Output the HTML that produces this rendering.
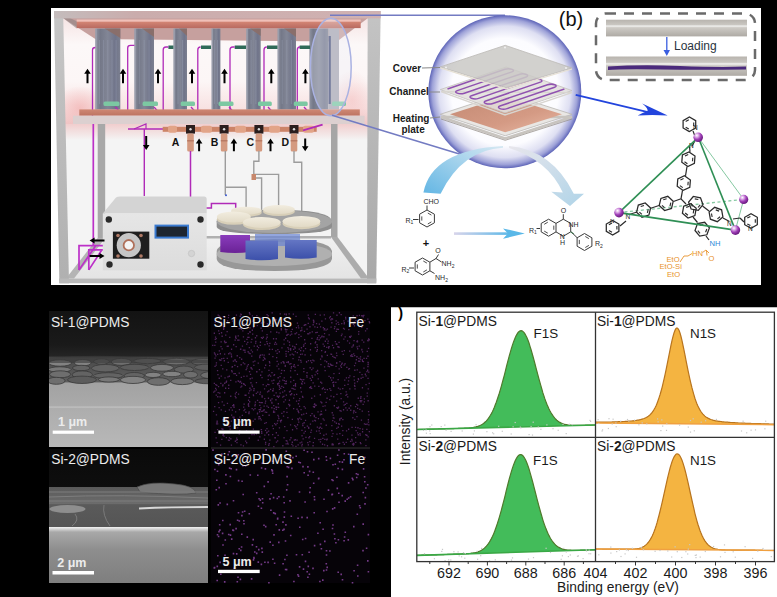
<!DOCTYPE html>
<html><head><meta charset="utf-8"><style>
html,body{margin:0;padding:0;background:#000;}
svg{display:block;font-family:"Liberation Sans",sans-serif;}
</style></head><body>
<svg width="777" height="597" viewBox="0 0 777 597">
<rect width="777" height="597" fill="#000"/>
<rect x="391" y="307.5" width="386" height="90" fill="#fff"/>
<rect x="391" y="307.5" width="386" height="290" fill="#fff"/>
<path d="M417.0,429.5 L418.0,429.5 L419.0,429.4 L420.0,429.4 L421.0,429.4 L422.0,429.4 L422.9,429.3 L423.9,429.3 L424.9,429.3 L425.9,429.3 L426.9,429.2 L427.9,429.2 L428.9,429.2 L429.9,429.2 L430.9,429.1 L431.9,429.1 L432.9,429.1 L433.9,429.1 L434.9,429.0 L435.8,429.0 L436.8,429.0 L437.8,429.0 L438.8,428.9 L439.8,428.9 L440.8,428.9 L441.8,428.9 L442.8,428.8 L443.8,428.8 L444.8,428.8 L445.8,428.8 L446.8,428.7 L447.7,428.7 L448.7,428.7 L449.7,428.7 L450.7,428.6 L451.7,428.6 L452.7,428.6 L453.7,428.6 L454.7,428.5 L455.7,428.5 L456.7,428.5 L457.7,428.5 L458.6,428.4 L459.6,428.4 L460.6,428.4 L461.6,428.3 L462.6,428.3 L463.6,428.3 L464.6,428.2 L465.6,428.2 L466.6,428.1 L467.6,428.0 L468.6,428.0 L469.6,427.9 L470.6,427.8 L471.5,427.7 L472.5,427.5 L473.5,427.4 L474.5,427.2 L475.5,427.0 L476.5,426.7 L477.5,426.5 L478.5,426.1 L479.5,425.7 L480.5,425.3 L481.5,424.8 L482.4,424.2 L483.4,423.5 L484.4,422.7 L485.4,421.8 L486.4,420.8 L487.4,419.6 L488.4,418.3 L489.4,416.9 L490.4,415.3 L491.4,413.6 L492.4,411.7 L493.4,409.6 L494.4,407.3 L495.3,404.8 L496.3,402.2 L497.3,399.3 L498.3,396.3 L499.3,393.2 L500.3,389.8 L501.3,386.3 L502.3,382.7 L503.3,379.0 L504.3,375.3 L505.3,371.4 L506.2,367.6 L507.2,363.7 L508.2,359.9 L509.2,356.2 L510.2,352.6 L511.2,349.2 L512.2,345.9 L513.2,342.9 L514.2,340.2 L515.2,337.7 L516.2,335.6 L517.2,333.9 L518.1,332.5 L519.1,331.5 L520.1,330.9 L521.1,330.7 L522.1,330.9 L523.1,331.6 L524.1,332.6 L525.1,334.1 L526.1,335.9 L527.1,338.0 L528.1,340.5 L529.1,343.3 L530.0,346.3 L531.0,349.5 L532.0,353.0 L533.0,356.5 L534.0,360.2 L535.0,364.0 L536.0,367.8 L537.0,371.6 L538.0,375.4 L539.0,379.1 L540.0,382.7 L541.0,386.2 L542.0,389.6 L542.9,392.9 L543.9,395.9 L544.9,398.9 L545.9,401.6 L546.9,404.2 L547.9,406.5 L548.9,408.7 L549.9,410.7 L550.9,412.5 L551.9,414.2 L552.9,415.7 L553.9,417.0 L554.8,418.2 L555.8,419.3 L556.8,420.2 L557.8,421.0 L558.8,421.7 L559.8,422.4 L560.8,422.9 L561.8,423.3 L562.8,423.7 L563.8,424.1 L564.8,424.3 L565.8,424.6 L566.7,424.7 L567.7,424.9 L568.7,425.0 L569.7,425.1 L570.7,425.2 L571.7,425.3 L572.7,425.3 L573.7,425.3 L574.7,425.4 L575.7,425.4 L576.7,425.4 L577.6,425.4 L578.6,425.4 L579.6,425.3 L580.6,425.3 L581.6,425.3 L582.6,425.3 L583.6,425.3 L584.6,425.3 L585.6,425.2 L586.6,425.2 L587.6,425.2 L588.6,425.2 L589.5,425.1 L590.5,425.1 L591.5,425.1 L592.5,425.1 L593.5,425.0 L594.5,425.0 L595.5,425.0 L595.5,425.0 L417.0,429.5 Z" fill="#43bc5a"/>
<path d="M417.0,429.5 L418.0,429.5 L419.0,429.4 L420.0,429.4 L421.0,429.4 L422.0,429.4 L422.9,429.3 L423.9,429.3 L424.9,429.3 L425.9,429.3 L426.9,429.2 L427.9,429.2 L428.9,429.2 L429.9,429.2 L430.9,429.1 L431.9,429.1 L432.9,429.1 L433.9,429.1 L434.9,429.0 L435.8,429.0 L436.8,429.0 L437.8,429.0 L438.8,428.9 L439.8,428.9 L440.8,428.9 L441.8,428.9 L442.8,428.8 L443.8,428.8 L444.8,428.8 L445.8,428.8 L446.8,428.7 L447.7,428.7 L448.7,428.7 L449.7,428.7 L450.7,428.6 L451.7,428.6 L452.7,428.6 L453.7,428.6 L454.7,428.5 L455.7,428.5 L456.7,428.5 L457.7,428.5 L458.6,428.4 L459.6,428.4 L460.6,428.4 L461.6,428.3 L462.6,428.3 L463.6,428.3 L464.6,428.2 L465.6,428.2 L466.6,428.1 L467.6,428.0 L468.6,428.0 L469.6,427.9 L470.6,427.8 L471.5,427.7 L472.5,427.5 L473.5,427.4 L474.5,427.2 L475.5,427.0 L476.5,426.7 L477.5,426.5 L478.5,426.1 L479.5,425.7 L480.5,425.3 L481.5,424.8 L482.4,424.2 L483.4,423.5 L484.4,422.7 L485.4,421.8 L486.4,420.8 L487.4,419.6 L488.4,418.3 L489.4,416.9 L490.4,415.3 L491.4,413.6 L492.4,411.7 L493.4,409.6 L494.4,407.3 L495.3,404.8 L496.3,402.2 L497.3,399.3 L498.3,396.3 L499.3,393.2 L500.3,389.8 L501.3,386.3 L502.3,382.7 L503.3,379.0 L504.3,375.3 L505.3,371.4 L506.2,367.6 L507.2,363.7 L508.2,359.9 L509.2,356.2 L510.2,352.6 L511.2,349.2 L512.2,345.9 L513.2,342.9 L514.2,340.2 L515.2,337.7 L516.2,335.6 L517.2,333.9 L518.1,332.5 L519.1,331.5 L520.1,330.9 L521.1,330.7 L522.1,330.9 L523.1,331.6 L524.1,332.6 L525.1,334.1 L526.1,335.9 L527.1,338.0 L528.1,340.5 L529.1,343.3 L530.0,346.3 L531.0,349.5 L532.0,353.0 L533.0,356.5 L534.0,360.2 L535.0,364.0 L536.0,367.8 L537.0,371.6 L538.0,375.4 L539.0,379.1 L540.0,382.7 L541.0,386.2 L542.0,389.6 L542.9,392.9 L543.9,395.9 L544.9,398.9 L545.9,401.6 L546.9,404.2 L547.9,406.5 L548.9,408.7 L549.9,410.7 L550.9,412.5 L551.9,414.2 L552.9,415.7 L553.9,417.0 L554.8,418.2 L555.8,419.3 L556.8,420.2 L557.8,421.0 L558.8,421.7 L559.8,422.4 L560.8,422.9 L561.8,423.3 L562.8,423.7 L563.8,424.1 L564.8,424.3 L565.8,424.6 L566.7,424.7 L567.7,424.9 L568.7,425.0 L569.7,425.1 L570.7,425.2 L571.7,425.3 L572.7,425.3 L573.7,425.3 L574.7,425.4 L575.7,425.4 L576.7,425.4 L577.6,425.4 L578.6,425.4 L579.6,425.3 L580.6,425.3 L581.6,425.3 L582.6,425.3 L583.6,425.3 L584.6,425.3 L585.6,425.2 L586.6,425.2 L587.6,425.2 L588.6,425.2 L589.5,425.1 L590.5,425.1 L591.5,425.1 L592.5,425.1 L593.5,425.0 L594.5,425.0 L595.5,425.0" fill="none" stroke="#4f7a2c" stroke-width="1.2"/>
<line x1="417" y1="429.5" x2="595.5" y2="425" stroke="#3aa845" stroke-width="1.6"/>
<rect x="475.5" y="424.1" width="1.2" height="1.2" fill="#c8c8c8"/>
<rect x="532.6" y="421.6" width="1.2" height="1.2" fill="#c8c8c8"/>
<rect x="512.5" y="426.2" width="1.2" height="1.2" fill="#c8c8c8"/>
<rect x="429.1" y="430.3" width="1.2" height="1.2" fill="#c8c8c8"/>
<rect x="425.5" y="429.4" width="1.2" height="1.2" fill="#c8c8c8"/>
<rect x="431.2" y="424.4" width="1.2" height="1.2" fill="#c8c8c8"/>
<rect x="493.1" y="433.2" width="1.2" height="1.2" fill="#c8c8c8"/>
<rect x="440.6" y="426.0" width="1.2" height="1.2" fill="#c8c8c8"/>
<rect x="528.5" y="434.0" width="1.2" height="1.2" fill="#c8c8c8"/>
<rect x="519.7" y="426.5" width="1.2" height="1.2" fill="#c8c8c8"/>
<rect x="589.4" y="419.8" width="1.2" height="1.2" fill="#c8c8c8"/>
<rect x="568.8" y="423.7" width="1.2" height="1.2" fill="#c8c8c8"/>
<rect x="444.2" y="424.5" width="1.2" height="1.2" fill="#c8c8c8"/>
<rect x="472.8" y="433.5" width="1.2" height="1.2" fill="#c8c8c8"/>
<rect x="450.5" y="430.8" width="1.2" height="1.2" fill="#c8c8c8"/>
<rect x="530.5" y="425.9" width="1.2" height="1.2" fill="#c8c8c8"/>
<rect x="514.6" y="421.9" width="1.2" height="1.2" fill="#c8c8c8"/>
<rect x="429.4" y="426.1" width="1.2" height="1.2" fill="#c8c8c8"/>
<rect x="537.7" y="426.4" width="1.2" height="1.2" fill="#c8c8c8"/>
<rect x="473.8" y="430.3" width="1.2" height="1.2" fill="#c8c8c8"/>
<rect x="498.1" y="425.7" width="1.2" height="1.2" fill="#c8c8c8"/>
<rect x="557.6" y="429.7" width="1.2" height="1.2" fill="#c8c8c8"/>
<rect x="461.6" y="430.4" width="1.2" height="1.2" fill="#c8c8c8"/>
<rect x="510.6" y="433.4" width="1.2" height="1.2" fill="#c8c8c8"/>
<rect x="546.3" y="424.3" width="1.2" height="1.2" fill="#c8c8c8"/>
<rect x="590.0" y="420.8" width="1.2" height="1.2" fill="#c8c8c8"/>
<rect x="492.0" y="432.2" width="1.2" height="1.2" fill="#c8c8c8"/>
<rect x="445.5" y="429.6" width="1.2" height="1.2" fill="#c8c8c8"/>
<rect x="425.8" y="432.6" width="1.2" height="1.2" fill="#c8c8c8"/>
<rect x="552.4" y="428.1" width="1.2" height="1.2" fill="#c8c8c8"/>
<rect x="571.8" y="424.0" width="1.2" height="1.2" fill="#c8c8c8"/>
<rect x="540.3" y="428.7" width="1.2" height="1.2" fill="#c8c8c8"/>
<rect x="520.2" y="427.3" width="1.2" height="1.2" fill="#c8c8c8"/>
<rect x="565.6" y="433.0" width="1.2" height="1.2" fill="#c8c8c8"/>
<rect x="501.7" y="430.7" width="1.2" height="1.2" fill="#c8c8c8"/>
<rect x="429.6" y="433.0" width="1.2" height="1.2" fill="#c8c8c8"/>
<rect x="531.9" y="434.5" width="1.2" height="1.2" fill="#c8c8c8"/>
<rect x="562.4" y="423.8" width="1.2" height="1.2" fill="#c8c8c8"/>
<rect x="486.3" y="431.1" width="1.2" height="1.2" fill="#c8c8c8"/>
<rect x="422.9" y="429.8" width="1.2" height="1.2" fill="#c8c8c8"/>
<path d="M595.5,422.2 L596.5,422.2 L597.5,422.2 L598.5,422.2 L599.5,422.2 L600.5,422.2 L601.5,422.2 L602.5,422.1 L603.5,422.1 L604.5,422.1 L605.4,422.1 L606.4,422.1 L607.4,422.1 L608.4,422.0 L609.4,422.0 L610.4,422.0 L611.4,422.0 L612.4,421.9 L613.4,421.9 L614.4,421.9 L615.4,421.8 L616.4,421.8 L617.4,421.8 L618.4,421.7 L619.4,421.7 L620.4,421.7 L621.4,421.6 L622.4,421.6 L623.3,421.5 L624.3,421.5 L625.3,421.4 L626.3,421.3 L627.3,421.3 L628.3,421.2 L629.3,421.1 L630.3,421.0 L631.3,421.0 L632.3,420.9 L633.3,420.8 L634.3,420.6 L635.3,420.5 L636.3,420.4 L637.3,420.2 L638.3,420.1 L639.3,419.9 L640.2,419.7 L641.2,419.4 L642.2,419.1 L643.2,418.8 L644.2,418.5 L645.2,418.0 L646.2,417.5 L647.2,416.9 L648.2,416.3 L649.2,415.5 L650.2,414.6 L651.2,413.5 L652.2,412.3 L653.2,410.9 L654.2,409.3 L655.2,407.5 L656.2,405.4 L657.2,403.1 L658.1,400.5 L659.1,397.6 L660.1,394.5 L661.1,391.0 L662.1,387.3 L663.1,383.2 L664.1,378.9 L665.1,374.4 L666.1,369.6 L667.1,364.7 L668.1,359.7 L669.1,354.6 L670.1,349.6 L671.1,344.7 L672.1,340.2 L673.1,336.1 L674.1,332.7 L675.1,330.1 L676.0,328.5 L677.0,328.0 L678.0,328.6 L679.0,330.3 L680.0,333.0 L681.0,336.5 L682.0,340.7 L683.0,345.3 L684.0,350.2 L685.0,355.2 L686.0,360.3 L687.0,365.3 L688.0,370.3 L689.0,375.0 L690.0,379.6 L691.0,383.8 L692.0,387.9 L693.0,391.6 L694.0,395.1 L694.9,398.2 L695.9,401.1 L696.9,403.7 L697.9,406.0 L698.9,408.0 L699.9,409.9 L700.9,411.5 L701.9,412.9 L702.9,414.1 L703.9,415.1 L704.9,416.1 L705.9,416.9 L706.9,417.5 L707.9,418.1 L708.9,418.6 L709.9,419.1 L710.9,419.5 L711.9,419.8 L712.8,420.1 L713.8,420.3 L714.8,420.6 L715.8,420.8 L716.8,421.0 L717.8,421.1 L718.8,421.3 L719.8,421.4 L720.8,421.5 L721.8,421.7 L722.8,421.8 L723.8,421.9 L724.8,422.0 L725.8,422.1 L726.8,422.2 L727.8,422.2 L728.8,422.3 L729.8,422.4 L730.7,422.5 L731.7,422.5 L732.7,422.6 L733.7,422.7 L734.7,422.7 L735.7,422.8 L736.7,422.8 L737.7,422.9 L738.7,423.0 L739.7,423.0 L740.7,423.0 L741.7,423.1 L742.7,423.1 L743.7,423.2 L744.7,423.2 L745.7,423.3 L746.7,423.3 L747.6,423.3 L748.6,423.4 L749.6,423.4 L750.6,423.4 L751.6,423.5 L752.6,423.5 L753.6,423.5 L754.6,423.6 L755.6,423.6 L756.6,423.6 L757.6,423.7 L758.6,423.7 L759.6,423.7 L760.6,423.7 L761.6,423.8 L762.6,423.8 L763.6,423.8 L764.6,423.8 L765.5,423.9 L766.5,423.9 L767.5,423.9 L768.5,423.9 L769.5,424.0 L770.5,424.0 L771.5,424.0 L772.5,424.0 L773.5,424.0 L774.5,424.1 L774.5,424.6 L595.5,423.0 Z" fill="#f4b441"/>
<path d="M595.5,422.2 L596.5,422.2 L597.5,422.2 L598.5,422.2 L599.5,422.2 L600.5,422.2 L601.5,422.2 L602.5,422.1 L603.5,422.1 L604.5,422.1 L605.4,422.1 L606.4,422.1 L607.4,422.1 L608.4,422.0 L609.4,422.0 L610.4,422.0 L611.4,422.0 L612.4,421.9 L613.4,421.9 L614.4,421.9 L615.4,421.8 L616.4,421.8 L617.4,421.8 L618.4,421.7 L619.4,421.7 L620.4,421.7 L621.4,421.6 L622.4,421.6 L623.3,421.5 L624.3,421.5 L625.3,421.4 L626.3,421.3 L627.3,421.3 L628.3,421.2 L629.3,421.1 L630.3,421.0 L631.3,421.0 L632.3,420.9 L633.3,420.8 L634.3,420.6 L635.3,420.5 L636.3,420.4 L637.3,420.2 L638.3,420.1 L639.3,419.9 L640.2,419.7 L641.2,419.4 L642.2,419.1 L643.2,418.8 L644.2,418.5 L645.2,418.0 L646.2,417.5 L647.2,416.9 L648.2,416.3 L649.2,415.5 L650.2,414.6 L651.2,413.5 L652.2,412.3 L653.2,410.9 L654.2,409.3 L655.2,407.5 L656.2,405.4 L657.2,403.1 L658.1,400.5 L659.1,397.6 L660.1,394.5 L661.1,391.0 L662.1,387.3 L663.1,383.2 L664.1,378.9 L665.1,374.4 L666.1,369.6 L667.1,364.7 L668.1,359.7 L669.1,354.6 L670.1,349.6 L671.1,344.7 L672.1,340.2 L673.1,336.1 L674.1,332.7 L675.1,330.1 L676.0,328.5 L677.0,328.0 L678.0,328.6 L679.0,330.3 L680.0,333.0 L681.0,336.5 L682.0,340.7 L683.0,345.3 L684.0,350.2 L685.0,355.2 L686.0,360.3 L687.0,365.3 L688.0,370.3 L689.0,375.0 L690.0,379.6 L691.0,383.8 L692.0,387.9 L693.0,391.6 L694.0,395.1 L694.9,398.2 L695.9,401.1 L696.9,403.7 L697.9,406.0 L698.9,408.0 L699.9,409.9 L700.9,411.5 L701.9,412.9 L702.9,414.1 L703.9,415.1 L704.9,416.1 L705.9,416.9 L706.9,417.5 L707.9,418.1 L708.9,418.6 L709.9,419.1 L710.9,419.5 L711.9,419.8 L712.8,420.1 L713.8,420.3 L714.8,420.6 L715.8,420.8 L716.8,421.0 L717.8,421.1 L718.8,421.3 L719.8,421.4 L720.8,421.5 L721.8,421.7 L722.8,421.8 L723.8,421.9 L724.8,422.0 L725.8,422.1 L726.8,422.2 L727.8,422.2 L728.8,422.3 L729.8,422.4 L730.7,422.5 L731.7,422.5 L732.7,422.6 L733.7,422.7 L734.7,422.7 L735.7,422.8 L736.7,422.8 L737.7,422.9 L738.7,423.0 L739.7,423.0 L740.7,423.0 L741.7,423.1 L742.7,423.1 L743.7,423.2 L744.7,423.2 L745.7,423.3 L746.7,423.3 L747.6,423.3 L748.6,423.4 L749.6,423.4 L750.6,423.4 L751.6,423.5 L752.6,423.5 L753.6,423.5 L754.6,423.6 L755.6,423.6 L756.6,423.6 L757.6,423.7 L758.6,423.7 L759.6,423.7 L760.6,423.7 L761.6,423.8 L762.6,423.8 L763.6,423.8 L764.6,423.8 L765.5,423.9 L766.5,423.9 L767.5,423.9 L768.5,423.9 L769.5,424.0 L770.5,424.0 L771.5,424.0 L772.5,424.0 L773.5,424.0 L774.5,424.1" fill="none" stroke="#b8741e" stroke-width="1.2"/>
<line x1="595.5" y1="423" x2="774.5" y2="424.6" stroke="#f0a040" stroke-width="1.6"/>
<rect x="626.9" y="418.9" width="1.2" height="1.2" fill="#c8c8c8"/>
<rect x="607.8" y="427.9" width="1.2" height="1.2" fill="#c8c8c8"/>
<rect x="620.1" y="420.7" width="1.2" height="1.2" fill="#c8c8c8"/>
<rect x="665.9" y="429.8" width="1.2" height="1.2" fill="#c8c8c8"/>
<rect x="611.6" y="423.4" width="1.2" height="1.2" fill="#c8c8c8"/>
<rect x="693.7" y="430.2" width="1.2" height="1.2" fill="#c8c8c8"/>
<rect x="740.9" y="430.4" width="1.2" height="1.2" fill="#c8c8c8"/>
<rect x="646.2" y="423.3" width="1.2" height="1.2" fill="#c8c8c8"/>
<rect x="660.3" y="430.0" width="1.2" height="1.2" fill="#c8c8c8"/>
<rect x="765.1" y="420.6" width="1.2" height="1.2" fill="#c8c8c8"/>
<rect x="628.3" y="420.5" width="1.2" height="1.2" fill="#c8c8c8"/>
<rect x="638.3" y="424.2" width="1.2" height="1.2" fill="#c8c8c8"/>
<rect x="700.6" y="421.6" width="1.2" height="1.2" fill="#c8c8c8"/>
<rect x="598.2" y="422.9" width="1.2" height="1.2" fill="#c8c8c8"/>
<rect x="662.1" y="425.5" width="1.2" height="1.2" fill="#c8c8c8"/>
<rect x="764.3" y="428.2" width="1.2" height="1.2" fill="#c8c8c8"/>
<rect x="687.7" y="426.5" width="1.2" height="1.2" fill="#c8c8c8"/>
<rect x="715.8" y="418.8" width="1.2" height="1.2" fill="#c8c8c8"/>
<rect x="754.9" y="429.3" width="1.2" height="1.2" fill="#c8c8c8"/>
<rect x="750.5" y="429.6" width="1.2" height="1.2" fill="#c8c8c8"/>
<rect x="666.2" y="423.2" width="1.2" height="1.2" fill="#c8c8c8"/>
<rect x="615.6" y="426.1" width="1.2" height="1.2" fill="#c8c8c8"/>
<rect x="608.4" y="418.1" width="1.2" height="1.2" fill="#c8c8c8"/>
<rect x="634.0" y="419.6" width="1.2" height="1.2" fill="#c8c8c8"/>
<rect x="657.0" y="418.3" width="1.2" height="1.2" fill="#c8c8c8"/>
<rect x="597.5" y="419.1" width="1.2" height="1.2" fill="#c8c8c8"/>
<rect x="615.3" y="422.3" width="1.2" height="1.2" fill="#c8c8c8"/>
<rect x="602.0" y="429.3" width="1.2" height="1.2" fill="#c8c8c8"/>
<rect x="705.0" y="420.1" width="1.2" height="1.2" fill="#c8c8c8"/>
<rect x="641.6" y="422.3" width="1.2" height="1.2" fill="#c8c8c8"/>
<rect x="661.2" y="419.3" width="1.2" height="1.2" fill="#c8c8c8"/>
<rect x="746.1" y="432.2" width="1.2" height="1.2" fill="#c8c8c8"/>
<rect x="679.0" y="424.5" width="1.2" height="1.2" fill="#c8c8c8"/>
<rect x="612.5" y="418.6" width="1.2" height="1.2" fill="#c8c8c8"/>
<rect x="657.5" y="421.3" width="1.2" height="1.2" fill="#c8c8c8"/>
<rect x="742.5" y="420.6" width="1.2" height="1.2" fill="#c8c8c8"/>
<rect x="601.5" y="430.4" width="1.2" height="1.2" fill="#c8c8c8"/>
<rect x="689.9" y="419.9" width="1.2" height="1.2" fill="#c8c8c8"/>
<rect x="692.6" y="418.2" width="1.2" height="1.2" fill="#c8c8c8"/>
<rect x="689.9" y="431.5" width="1.2" height="1.2" fill="#c8c8c8"/>
<path d="M417.0,555.4 L418.0,555.4 L419.0,555.3 L420.0,555.3 L421.0,555.3 L422.0,555.2 L422.9,555.2 L423.9,555.2 L424.9,555.2 L425.9,555.1 L426.9,555.1 L427.9,555.1 L428.9,555.0 L429.9,555.0 L430.9,555.0 L431.9,554.9 L432.9,554.9 L433.9,554.9 L434.9,554.8 L435.8,554.8 L436.8,554.8 L437.8,554.7 L438.8,554.7 L439.8,554.7 L440.8,554.7 L441.8,554.6 L442.8,554.6 L443.8,554.6 L444.8,554.5 L445.8,554.5 L446.8,554.5 L447.7,554.4 L448.7,554.4 L449.7,554.4 L450.7,554.3 L451.7,554.3 L452.7,554.3 L453.7,554.2 L454.7,554.2 L455.7,554.2 L456.7,554.1 L457.7,554.1 L458.6,554.1 L459.6,554.0 L460.6,554.0 L461.6,554.0 L462.6,553.9 L463.6,553.9 L464.6,553.8 L465.6,553.8 L466.6,553.7 L467.6,553.6 L468.6,553.6 L469.6,553.5 L470.6,553.4 L471.5,553.2 L472.5,553.1 L473.5,552.9 L474.5,552.8 L475.5,552.5 L476.5,552.3 L477.5,552.0 L478.5,551.6 L479.5,551.2 L480.5,550.8 L481.5,550.2 L482.4,549.6 L483.4,548.9 L484.4,548.1 L485.4,547.1 L486.4,546.1 L487.4,544.9 L488.4,543.6 L489.4,542.1 L490.4,540.4 L491.4,538.6 L492.4,536.6 L493.4,534.4 L494.4,532.1 L495.3,529.5 L496.3,526.7 L497.3,523.8 L498.3,520.6 L499.3,517.3 L500.3,513.9 L501.3,510.3 L502.3,506.5 L503.3,502.7 L504.3,498.8 L505.3,494.8 L506.2,490.9 L507.2,486.9 L508.2,483.0 L509.2,479.2 L510.2,475.6 L511.2,472.1 L512.2,468.9 L513.2,465.9 L514.2,463.2 L515.2,460.8 L516.2,458.8 L517.2,457.1 L518.1,455.9 L519.1,455.0 L520.1,454.6 L521.1,454.7 L522.1,455.1 L523.1,456.0 L524.1,457.3 L525.1,459.0 L526.1,461.0 L527.1,463.4 L528.1,466.2 L529.1,469.2 L530.0,472.4 L531.0,475.9 L532.0,479.5 L533.0,483.2 L534.0,487.1 L535.0,491.0 L536.0,494.9 L537.0,498.8 L538.0,502.6 L539.0,506.3 L540.0,510.0 L541.0,513.5 L542.0,516.9 L542.9,520.1 L543.9,523.1 L544.9,525.9 L545.9,528.6 L546.9,531.0 L547.9,533.3 L548.9,535.4 L549.9,537.3 L550.9,539.0 L551.9,540.5 L552.9,541.9 L553.9,543.1 L554.8,544.2 L555.8,545.2 L556.8,546.0 L557.8,546.7 L558.8,547.4 L559.8,547.9 L560.8,548.4 L561.8,548.8 L562.8,549.1 L563.8,549.4 L564.8,549.6 L565.8,549.8 L566.7,549.9 L567.7,550.0 L568.7,550.1 L569.7,550.2 L570.7,550.2 L571.7,550.3 L572.7,550.3 L573.7,550.3 L574.7,550.3 L575.7,550.3 L576.7,550.3 L577.6,550.3 L578.6,550.3 L579.6,550.3 L580.6,550.2 L581.6,550.2 L582.6,550.2 L583.6,550.2 L584.6,550.1 L585.6,550.1 L586.6,550.1 L587.6,550.0 L588.6,550.0 L589.5,550.0 L590.5,550.0 L591.5,549.9 L592.5,549.9 L593.5,549.9 L594.5,549.8 L595.5,549.8 L595.5,549.8 L417.0,555.4 Z" fill="#43bc5a"/>
<path d="M417.0,555.4 L418.0,555.4 L419.0,555.3 L420.0,555.3 L421.0,555.3 L422.0,555.2 L422.9,555.2 L423.9,555.2 L424.9,555.2 L425.9,555.1 L426.9,555.1 L427.9,555.1 L428.9,555.0 L429.9,555.0 L430.9,555.0 L431.9,554.9 L432.9,554.9 L433.9,554.9 L434.9,554.8 L435.8,554.8 L436.8,554.8 L437.8,554.7 L438.8,554.7 L439.8,554.7 L440.8,554.7 L441.8,554.6 L442.8,554.6 L443.8,554.6 L444.8,554.5 L445.8,554.5 L446.8,554.5 L447.7,554.4 L448.7,554.4 L449.7,554.4 L450.7,554.3 L451.7,554.3 L452.7,554.3 L453.7,554.2 L454.7,554.2 L455.7,554.2 L456.7,554.1 L457.7,554.1 L458.6,554.1 L459.6,554.0 L460.6,554.0 L461.6,554.0 L462.6,553.9 L463.6,553.9 L464.6,553.8 L465.6,553.8 L466.6,553.7 L467.6,553.6 L468.6,553.6 L469.6,553.5 L470.6,553.4 L471.5,553.2 L472.5,553.1 L473.5,552.9 L474.5,552.8 L475.5,552.5 L476.5,552.3 L477.5,552.0 L478.5,551.6 L479.5,551.2 L480.5,550.8 L481.5,550.2 L482.4,549.6 L483.4,548.9 L484.4,548.1 L485.4,547.1 L486.4,546.1 L487.4,544.9 L488.4,543.6 L489.4,542.1 L490.4,540.4 L491.4,538.6 L492.4,536.6 L493.4,534.4 L494.4,532.1 L495.3,529.5 L496.3,526.7 L497.3,523.8 L498.3,520.6 L499.3,517.3 L500.3,513.9 L501.3,510.3 L502.3,506.5 L503.3,502.7 L504.3,498.8 L505.3,494.8 L506.2,490.9 L507.2,486.9 L508.2,483.0 L509.2,479.2 L510.2,475.6 L511.2,472.1 L512.2,468.9 L513.2,465.9 L514.2,463.2 L515.2,460.8 L516.2,458.8 L517.2,457.1 L518.1,455.9 L519.1,455.0 L520.1,454.6 L521.1,454.7 L522.1,455.1 L523.1,456.0 L524.1,457.3 L525.1,459.0 L526.1,461.0 L527.1,463.4 L528.1,466.2 L529.1,469.2 L530.0,472.4 L531.0,475.9 L532.0,479.5 L533.0,483.2 L534.0,487.1 L535.0,491.0 L536.0,494.9 L537.0,498.8 L538.0,502.6 L539.0,506.3 L540.0,510.0 L541.0,513.5 L542.0,516.9 L542.9,520.1 L543.9,523.1 L544.9,525.9 L545.9,528.6 L546.9,531.0 L547.9,533.3 L548.9,535.4 L549.9,537.3 L550.9,539.0 L551.9,540.5 L552.9,541.9 L553.9,543.1 L554.8,544.2 L555.8,545.2 L556.8,546.0 L557.8,546.7 L558.8,547.4 L559.8,547.9 L560.8,548.4 L561.8,548.8 L562.8,549.1 L563.8,549.4 L564.8,549.6 L565.8,549.8 L566.7,549.9 L567.7,550.0 L568.7,550.1 L569.7,550.2 L570.7,550.2 L571.7,550.3 L572.7,550.3 L573.7,550.3 L574.7,550.3 L575.7,550.3 L576.7,550.3 L577.6,550.3 L578.6,550.3 L579.6,550.3 L580.6,550.2 L581.6,550.2 L582.6,550.2 L583.6,550.2 L584.6,550.1 L585.6,550.1 L586.6,550.1 L587.6,550.0 L588.6,550.0 L589.5,550.0 L590.5,550.0 L591.5,549.9 L592.5,549.9 L593.5,549.9 L594.5,549.8 L595.5,549.8" fill="none" stroke="#4f7a2c" stroke-width="1.2"/>
<line x1="417" y1="555.4" x2="595.5" y2="549.8" stroke="#3aa845" stroke-width="1.6"/>
<rect x="569.7" y="554.4" width="1.2" height="1.2" fill="#c8c8c8"/>
<rect x="464.6" y="553.0" width="1.2" height="1.2" fill="#c8c8c8"/>
<rect x="448.1" y="559.2" width="1.2" height="1.2" fill="#c8c8c8"/>
<rect x="511.9" y="557.3" width="1.2" height="1.2" fill="#c8c8c8"/>
<rect x="476.5" y="550.7" width="1.2" height="1.2" fill="#c8c8c8"/>
<rect x="560.6" y="558.7" width="1.2" height="1.2" fill="#c8c8c8"/>
<rect x="567.8" y="556.0" width="1.2" height="1.2" fill="#c8c8c8"/>
<rect x="561.8" y="555.2" width="1.2" height="1.2" fill="#c8c8c8"/>
<rect x="458.6" y="555.3" width="1.2" height="1.2" fill="#c8c8c8"/>
<rect x="481.0" y="547.8" width="1.2" height="1.2" fill="#c8c8c8"/>
<rect x="423.9" y="553.1" width="1.2" height="1.2" fill="#c8c8c8"/>
<rect x="464.2" y="557.6" width="1.2" height="1.2" fill="#c8c8c8"/>
<rect x="585.9" y="550.4" width="1.2" height="1.2" fill="#c8c8c8"/>
<rect x="582.5" y="558.0" width="1.2" height="1.2" fill="#c8c8c8"/>
<rect x="585.6" y="549.2" width="1.2" height="1.2" fill="#c8c8c8"/>
<rect x="457.5" y="551.3" width="1.2" height="1.2" fill="#c8c8c8"/>
<rect x="453.3" y="551.1" width="1.2" height="1.2" fill="#c8c8c8"/>
<rect x="527.9" y="558.5" width="1.2" height="1.2" fill="#c8c8c8"/>
<rect x="565.7" y="551.4" width="1.2" height="1.2" fill="#c8c8c8"/>
<rect x="532.9" y="557.0" width="1.2" height="1.2" fill="#c8c8c8"/>
<rect x="433.8" y="558.1" width="1.2" height="1.2" fill="#c8c8c8"/>
<rect x="577.8" y="555.3" width="1.2" height="1.2" fill="#c8c8c8"/>
<rect x="549.9" y="551.9" width="1.2" height="1.2" fill="#c8c8c8"/>
<rect x="450.2" y="559.4" width="1.2" height="1.2" fill="#c8c8c8"/>
<rect x="477.0" y="558.7" width="1.2" height="1.2" fill="#c8c8c8"/>
<rect x="588.6" y="549.6" width="1.2" height="1.2" fill="#c8c8c8"/>
<rect x="489.0" y="560.4" width="1.2" height="1.2" fill="#c8c8c8"/>
<rect x="545.5" y="547.7" width="1.2" height="1.2" fill="#c8c8c8"/>
<rect x="441.2" y="550.8" width="1.2" height="1.2" fill="#c8c8c8"/>
<rect x="576.9" y="555.7" width="1.2" height="1.2" fill="#c8c8c8"/>
<rect x="444.5" y="560.1" width="1.2" height="1.2" fill="#c8c8c8"/>
<rect x="590.1" y="553.2" width="1.2" height="1.2" fill="#c8c8c8"/>
<rect x="480.1" y="555.1" width="1.2" height="1.2" fill="#c8c8c8"/>
<rect x="441.9" y="548.8" width="1.2" height="1.2" fill="#c8c8c8"/>
<rect x="588.4" y="553.1" width="1.2" height="1.2" fill="#c8c8c8"/>
<rect x="510.9" y="559.5" width="1.2" height="1.2" fill="#c8c8c8"/>
<rect x="494.7" y="559.2" width="1.2" height="1.2" fill="#c8c8c8"/>
<rect x="563.2" y="547.8" width="1.2" height="1.2" fill="#c8c8c8"/>
<rect x="462.9" y="552.1" width="1.2" height="1.2" fill="#c8c8c8"/>
<rect x="461.0" y="556.2" width="1.2" height="1.2" fill="#c8c8c8"/>
<path d="M595.5,549.0 L596.5,549.0 L597.5,549.0 L598.5,549.0 L599.5,549.0 L600.5,549.0 L601.5,549.0 L602.5,549.1 L603.5,549.1 L604.5,549.1 L605.4,549.1 L606.4,549.1 L607.4,549.1 L608.4,549.1 L609.4,549.1 L610.4,549.1 L611.4,549.1 L612.4,549.1 L613.4,549.1 L614.4,549.1 L615.4,549.2 L616.4,549.2 L617.4,549.2 L618.4,549.2 L619.4,549.2 L620.4,549.2 L621.4,549.2 L622.4,549.2 L623.3,549.2 L624.3,549.2 L625.3,549.2 L626.3,549.2 L627.3,549.2 L628.3,549.2 L629.3,549.2 L630.3,549.2 L631.3,549.1 L632.3,549.1 L633.3,549.1 L634.3,549.0 L635.3,548.9 L636.3,548.8 L637.3,548.7 L638.3,548.5 L639.3,548.3 L640.2,548.0 L641.2,547.7 L642.2,547.2 L643.2,546.7 L644.2,546.2 L645.2,545.4 L646.2,544.6 L647.2,543.6 L648.2,542.5 L649.2,541.1 L650.2,539.6 L651.2,537.9 L652.2,535.9 L653.2,533.7 L654.2,531.2 L655.2,528.5 L656.2,525.5 L657.2,522.2 L658.1,518.7 L659.1,515.0 L660.1,511.0 L661.1,506.9 L662.1,502.6 L663.1,498.1 L664.1,493.6 L665.1,489.1 L666.1,484.6 L667.1,480.1 L668.1,475.9 L669.1,471.8 L670.1,468.0 L671.1,464.6 L672.1,461.5 L673.1,458.9 L674.1,456.8 L675.1,455.3 L676.0,454.3 L677.0,453.8 L678.0,454.0 L679.0,454.7 L680.0,456.0 L681.0,457.9 L682.0,460.2 L683.0,463.1 L684.0,466.3 L685.0,470.0 L686.0,473.9 L687.0,478.1 L688.0,482.4 L689.0,486.9 L690.0,491.5 L691.0,496.0 L692.0,500.5 L693.0,504.9 L694.0,509.2 L694.9,513.3 L695.9,517.1 L696.9,520.8 L697.9,524.2 L698.9,527.3 L699.9,530.2 L700.9,532.8 L701.9,535.2 L702.9,537.3 L703.9,539.1 L704.9,540.8 L705.9,542.2 L706.9,543.5 L707.9,544.6 L708.9,545.5 L709.9,546.3 L710.9,547.0 L711.9,547.5 L712.8,548.0 L713.8,548.4 L714.8,548.7 L715.8,549.0 L716.8,549.2 L717.8,549.4 L718.8,549.5 L719.8,549.6 L720.8,549.7 L721.8,549.8 L722.8,549.8 L723.8,549.9 L724.8,549.9 L725.8,550.0 L726.8,550.0 L727.8,550.0 L728.8,550.0 L729.8,550.0 L730.7,550.0 L731.7,550.1 L732.7,550.1 L733.7,550.1 L734.7,550.1 L735.7,550.1 L736.7,550.1 L737.7,550.1 L738.7,550.1 L739.7,550.1 L740.7,550.1 L741.7,550.1 L742.7,550.2 L743.7,550.2 L744.7,550.2 L745.7,550.2 L746.7,550.2 L747.6,550.2 L748.6,550.2 L749.6,550.2 L750.6,550.2 L751.6,550.2 L752.6,550.2 L753.6,550.2 L754.6,550.2 L755.6,550.3 L756.6,550.3 L757.6,550.3 L758.6,550.3 L759.6,550.3 L760.6,550.3 L761.6,550.3 L762.6,550.3 L763.6,550.3 L764.6,550.3 L765.5,550.3 L766.5,550.3 L767.5,550.3 L768.5,550.4 L769.5,550.4 L770.5,550.4 L771.5,550.4 L772.5,550.4 L773.5,550.4 L774.5,550.4 L774.5,550.4 L595.5,549.0 Z" fill="#f4b441"/>
<path d="M595.5,549.0 L596.5,549.0 L597.5,549.0 L598.5,549.0 L599.5,549.0 L600.5,549.0 L601.5,549.0 L602.5,549.1 L603.5,549.1 L604.5,549.1 L605.4,549.1 L606.4,549.1 L607.4,549.1 L608.4,549.1 L609.4,549.1 L610.4,549.1 L611.4,549.1 L612.4,549.1 L613.4,549.1 L614.4,549.1 L615.4,549.2 L616.4,549.2 L617.4,549.2 L618.4,549.2 L619.4,549.2 L620.4,549.2 L621.4,549.2 L622.4,549.2 L623.3,549.2 L624.3,549.2 L625.3,549.2 L626.3,549.2 L627.3,549.2 L628.3,549.2 L629.3,549.2 L630.3,549.2 L631.3,549.1 L632.3,549.1 L633.3,549.1 L634.3,549.0 L635.3,548.9 L636.3,548.8 L637.3,548.7 L638.3,548.5 L639.3,548.3 L640.2,548.0 L641.2,547.7 L642.2,547.2 L643.2,546.7 L644.2,546.2 L645.2,545.4 L646.2,544.6 L647.2,543.6 L648.2,542.5 L649.2,541.1 L650.2,539.6 L651.2,537.9 L652.2,535.9 L653.2,533.7 L654.2,531.2 L655.2,528.5 L656.2,525.5 L657.2,522.2 L658.1,518.7 L659.1,515.0 L660.1,511.0 L661.1,506.9 L662.1,502.6 L663.1,498.1 L664.1,493.6 L665.1,489.1 L666.1,484.6 L667.1,480.1 L668.1,475.9 L669.1,471.8 L670.1,468.0 L671.1,464.6 L672.1,461.5 L673.1,458.9 L674.1,456.8 L675.1,455.3 L676.0,454.3 L677.0,453.8 L678.0,454.0 L679.0,454.7 L680.0,456.0 L681.0,457.9 L682.0,460.2 L683.0,463.1 L684.0,466.3 L685.0,470.0 L686.0,473.9 L687.0,478.1 L688.0,482.4 L689.0,486.9 L690.0,491.5 L691.0,496.0 L692.0,500.5 L693.0,504.9 L694.0,509.2 L694.9,513.3 L695.9,517.1 L696.9,520.8 L697.9,524.2 L698.9,527.3 L699.9,530.2 L700.9,532.8 L701.9,535.2 L702.9,537.3 L703.9,539.1 L704.9,540.8 L705.9,542.2 L706.9,543.5 L707.9,544.6 L708.9,545.5 L709.9,546.3 L710.9,547.0 L711.9,547.5 L712.8,548.0 L713.8,548.4 L714.8,548.7 L715.8,549.0 L716.8,549.2 L717.8,549.4 L718.8,549.5 L719.8,549.6 L720.8,549.7 L721.8,549.8 L722.8,549.8 L723.8,549.9 L724.8,549.9 L725.8,550.0 L726.8,550.0 L727.8,550.0 L728.8,550.0 L729.8,550.0 L730.7,550.0 L731.7,550.1 L732.7,550.1 L733.7,550.1 L734.7,550.1 L735.7,550.1 L736.7,550.1 L737.7,550.1 L738.7,550.1 L739.7,550.1 L740.7,550.1 L741.7,550.1 L742.7,550.2 L743.7,550.2 L744.7,550.2 L745.7,550.2 L746.7,550.2 L747.6,550.2 L748.6,550.2 L749.6,550.2 L750.6,550.2 L751.6,550.2 L752.6,550.2 L753.6,550.2 L754.6,550.2 L755.6,550.3 L756.6,550.3 L757.6,550.3 L758.6,550.3 L759.6,550.3 L760.6,550.3 L761.6,550.3 L762.6,550.3 L763.6,550.3 L764.6,550.3 L765.5,550.3 L766.5,550.3 L767.5,550.3 L768.5,550.4 L769.5,550.4 L770.5,550.4 L771.5,550.4 L772.5,550.4 L773.5,550.4 L774.5,550.4" fill="none" stroke="#b8741e" stroke-width="1.2"/>
<line x1="595.5" y1="549" x2="774.5" y2="550.4" stroke="#f0a040" stroke-width="1.6"/>
<rect x="642.9" y="549.2" width="1.2" height="1.2" fill="#c8c8c8"/>
<rect x="620.4" y="555.9" width="1.2" height="1.2" fill="#c8c8c8"/>
<rect x="659.4" y="549.9" width="1.2" height="1.2" fill="#c8c8c8"/>
<rect x="699.6" y="556.5" width="1.2" height="1.2" fill="#c8c8c8"/>
<rect x="671.1" y="556.4" width="1.2" height="1.2" fill="#c8c8c8"/>
<rect x="685.3" y="551.1" width="1.2" height="1.2" fill="#c8c8c8"/>
<rect x="689.1" y="544.0" width="1.2" height="1.2" fill="#c8c8c8"/>
<rect x="674.5" y="546.2" width="1.2" height="1.2" fill="#c8c8c8"/>
<rect x="598.2" y="554.2" width="1.2" height="1.2" fill="#c8c8c8"/>
<rect x="627.7" y="549.9" width="1.2" height="1.2" fill="#c8c8c8"/>
<rect x="724.4" y="551.8" width="1.2" height="1.2" fill="#c8c8c8"/>
<rect x="654.5" y="550.7" width="1.2" height="1.2" fill="#c8c8c8"/>
<rect x="694.7" y="554.8" width="1.2" height="1.2" fill="#c8c8c8"/>
<rect x="616.1" y="551.0" width="1.2" height="1.2" fill="#c8c8c8"/>
<rect x="641.0" y="547.2" width="1.2" height="1.2" fill="#c8c8c8"/>
<rect x="732.6" y="551.2" width="1.2" height="1.2" fill="#c8c8c8"/>
<rect x="695.8" y="554.4" width="1.2" height="1.2" fill="#c8c8c8"/>
<rect x="757.2" y="550.5" width="1.2" height="1.2" fill="#c8c8c8"/>
<rect x="704.7" y="550.9" width="1.2" height="1.2" fill="#c8c8c8"/>
<rect x="687.1" y="553.4" width="1.2" height="1.2" fill="#c8c8c8"/>
<rect x="676.7" y="551.1" width="1.2" height="1.2" fill="#c8c8c8"/>
<rect x="681.2" y="556.9" width="1.2" height="1.2" fill="#c8c8c8"/>
<rect x="719.9" y="556.2" width="1.2" height="1.2" fill="#c8c8c8"/>
<rect x="762.4" y="547.9" width="1.2" height="1.2" fill="#c8c8c8"/>
<rect x="695.4" y="557.0" width="1.2" height="1.2" fill="#c8c8c8"/>
<rect x="744.5" y="546.1" width="1.2" height="1.2" fill="#c8c8c8"/>
<rect x="618.8" y="549.4" width="1.2" height="1.2" fill="#c8c8c8"/>
<rect x="610.2" y="546.5" width="1.2" height="1.2" fill="#c8c8c8"/>
<rect x="610.3" y="552.5" width="1.2" height="1.2" fill="#c8c8c8"/>
<rect x="734.7" y="556.6" width="1.2" height="1.2" fill="#c8c8c8"/>
<rect x="624.5" y="553.3" width="1.2" height="1.2" fill="#c8c8c8"/>
<rect x="713.0" y="545.9" width="1.2" height="1.2" fill="#c8c8c8"/>
<rect x="752.0" y="557.8" width="1.2" height="1.2" fill="#c8c8c8"/>
<rect x="635.9" y="556.7" width="1.2" height="1.2" fill="#c8c8c8"/>
<rect x="667.2" y="550.4" width="1.2" height="1.2" fill="#c8c8c8"/>
<rect x="770.7" y="556.0" width="1.2" height="1.2" fill="#c8c8c8"/>
<rect x="625.8" y="549.3" width="1.2" height="1.2" fill="#c8c8c8"/>
<rect x="687.7" y="548.5" width="1.2" height="1.2" fill="#c8c8c8"/>
<rect x="631.8" y="547.7" width="1.2" height="1.2" fill="#c8c8c8"/>
<rect x="723.9" y="544.3" width="1.2" height="1.2" fill="#c8c8c8"/>
<rect x="416.8" y="312.2" width="357.6" height="249.4" fill="none" stroke="#333" stroke-width="1.3"/>
<line x1="595.5" y1="312.2" x2="595.5" y2="561.6" stroke="#333" stroke-width="1.3"/>
<line x1="416.8" y1="437.3" x2="774.4" y2="437.3" stroke="#333" stroke-width="1.3"/>
<line x1="449.0" y1="561.6" x2="449.0" y2="565.5" stroke="#333" stroke-width="1"/>
<text x="449.0" y="578" font-size="14.3" text-anchor="middle" fill="#1a1a1a">692</text>
<line x1="468.2" y1="561.6" x2="468.2" y2="564" stroke="#333" stroke-width="1"/>
<line x1="487.4" y1="561.6" x2="487.4" y2="565.5" stroke="#333" stroke-width="1"/>
<text x="487.4" y="578" font-size="14.3" text-anchor="middle" fill="#1a1a1a">690</text>
<line x1="506.6" y1="561.6" x2="506.6" y2="564" stroke="#333" stroke-width="1"/>
<line x1="525.8" y1="561.6" x2="525.8" y2="565.5" stroke="#333" stroke-width="1"/>
<text x="525.8" y="578" font-size="14.3" text-anchor="middle" fill="#1a1a1a">688</text>
<line x1="545.0" y1="561.6" x2="545.0" y2="564" stroke="#333" stroke-width="1"/>
<line x1="564.2" y1="561.6" x2="564.2" y2="565.5" stroke="#333" stroke-width="1"/>
<text x="564.2" y="578" font-size="14.3" text-anchor="middle" fill="#1a1a1a">686</text>
<line x1="583.4" y1="561.6" x2="583.4" y2="564" stroke="#333" stroke-width="1"/>
<line x1="429.8" y1="561.6" x2="429.8" y2="564" stroke="#333" stroke-width="1"/>
<text x="595.5" y="578" font-size="14.3" text-anchor="middle" fill="#1a1a1a">404</text>
<line x1="635.5" y1="561.6" x2="635.5" y2="565.5" stroke="#333" stroke-width="1"/>
<text x="635.5" y="578" font-size="14.3" text-anchor="middle" fill="#1a1a1a">402</text>
<line x1="675.5" y1="561.6" x2="675.5" y2="565.5" stroke="#333" stroke-width="1"/>
<text x="675.5" y="578" font-size="14.3" text-anchor="middle" fill="#1a1a1a">400</text>
<line x1="715.5" y1="561.6" x2="715.5" y2="565.5" stroke="#333" stroke-width="1"/>
<text x="715.5" y="578" font-size="14.3" text-anchor="middle" fill="#1a1a1a">398</text>
<line x1="755.5" y1="561.6" x2="755.5" y2="565.5" stroke="#333" stroke-width="1"/>
<text x="755.5" y="578" font-size="14.3" text-anchor="middle" fill="#1a1a1a">396</text>
<line x1="615.5" y1="561.6" x2="615.5" y2="564" stroke="#333" stroke-width="1"/>
<line x1="655.5" y1="561.6" x2="655.5" y2="564" stroke="#333" stroke-width="1"/>
<line x1="695.5" y1="561.6" x2="695.5" y2="564" stroke="#333" stroke-width="1"/>
<line x1="735.5" y1="561.6" x2="735.5" y2="564" stroke="#333" stroke-width="1"/>
<text x="618" y="591.5" font-size="13.8" text-anchor="middle" fill="#1a1a1a">Binding energy (eV)</text>
<text transform="translate(409.5,421.5) rotate(-90)" font-size="13.8" text-anchor="middle" fill="#1a1a1a">Intensity (a.u.)</text>
<text x="418.5" y="325.8" font-size="13.8" fill="#1a1a1a">Si-<tspan font-weight="bold">1</tspan>@PDMS</text>
<text x="597" y="325.8" font-size="13.8" fill="#1a1a1a">Si-<tspan font-weight="bold">1</tspan>@PDMS</text>
<text x="418.5" y="451" font-size="13.8" fill="#1a1a1a">Si-<tspan font-weight="bold">2</tspan>@PDMS</text>
<text x="597" y="451" font-size="13.8" fill="#1a1a1a">Si-<tspan font-weight="bold">2</tspan>@PDMS</text>
<text x="533.5" y="338.2" font-size="13.4" fill="#1a1a1a">F1S</text>
<text x="690" y="338.2" font-size="13.4" fill="#1a1a1a">N1S</text>
<text x="533" y="465" font-size="13.4" fill="#1a1a1a">F1S</text>
<text x="690" y="465" font-size="13.4" fill="#1a1a1a">N1S</text>
<text x="398.3" y="317.5" font-size="14.5" font-weight="bold" fill="#000">)</text>
<defs><linearGradient id="sem1" gradientUnits="userSpaceOnUse" x1="0" y1="311" x2="0" y2="447"><stop offset="0" stop-color="#131313"/><stop offset="0.25" stop-color="#1a1a1a"/><stop offset="0.33" stop-color="#242424"/><stop offset="0.345" stop-color="#4a4a4a"/><stop offset="0.52" stop-color="#5e5e5e"/><stop offset="0.53" stop-color="#a2a2a2"/><stop offset="0.70" stop-color="#aaaaaa"/><stop offset="0.705" stop-color="#c6c6c6"/><stop offset="0.715" stop-color="#adadad"/><stop offset="1" stop-color="#b8b8b8"/></linearGradient><linearGradient id="sem2" gradientUnits="userSpaceOnUse" x1="0" y1="449" x2="0" y2="583"><stop offset="0" stop-color="#0a0a0a"/><stop offset="0.28" stop-color="#0e0e0e"/><stop offset="0.285" stop-color="#5a5a5a"/><stop offset="0.41" stop-color="#6c6c6c"/><stop offset="0.415" stop-color="#5a5a5a"/><stop offset="0.58" stop-color="#555"/><stop offset="0.585" stop-color="#ececec"/><stop offset="0.62" stop-color="#a8a8a8"/><stop offset="0.75" stop-color="#8e8e8e"/><stop offset="1" stop-color="#7e7e7e"/></linearGradient></defs>
<rect x="49" y="311" width="159" height="136" fill="url(#sem1)"/>
<defs><clipPath id="c1"><rect x="49" y="311" width="159" height="136"/></clipPath><clipPath id="c2"><rect x="49" y="449" width="159" height="134"/></clipPath><filter id="bl" x="-5%" y="-50%" width="110%" height="200%"><feGaussianBlur stdDeviation="0.6"/></filter></defs>
<g clip-path="url(#c1)"><g filter="url(#bl)"><ellipse cx="60.1" cy="363.0" rx="11.5" ry="3.2" fill="#828282" stroke="#383838" stroke-width="0.8"/><ellipse cx="82.7" cy="362.7" rx="8.5" ry="3.2" fill="#828282" stroke="#383838" stroke-width="0.8"/><ellipse cx="101.5" cy="361.5" rx="7.8" ry="2.7" fill="#646464" stroke="#383838" stroke-width="0.8"/><ellipse cx="121.4" cy="361.9" rx="10.2" ry="3.5" fill="#6e6e6e" stroke="#383838" stroke-width="0.8"/><ellipse cx="147.3" cy="361.0" rx="13.7" ry="2.6" fill="#6e6e6e" stroke="#383838" stroke-width="0.8"/><ellipse cx="176.2" cy="361.6" rx="13.2" ry="3.3" fill="#6e6e6e" stroke="#383838" stroke-width="0.8"/><ellipse cx="203.3" cy="362.0" rx="12.1" ry="3.4" fill="#5c5c5c" stroke="#383838" stroke-width="0.8"/><ellipse cx="59.7" cy="369.5" rx="11.4" ry="2.7" fill="#787878" stroke="#383838" stroke-width="0.8"/><ellipse cx="81.2" cy="368.0" rx="8.8" ry="2.7" fill="#646464" stroke="#383838" stroke-width="0.8"/><ellipse cx="105.3" cy="368.2" rx="13.8" ry="3.7" fill="#646464" stroke="#383838" stroke-width="0.8"/><ellipse cx="134.5" cy="367.4" rx="14.4" ry="3.1" fill="#5c5c5c" stroke="#383838" stroke-width="0.8"/><ellipse cx="162.0" cy="367.8" rx="11.5" ry="3.4" fill="#787878" stroke="#383838" stroke-width="0.8"/><ellipse cx="183.9" cy="369.6" rx="9.7" ry="3.5" fill="#646464" stroke="#383838" stroke-width="0.8"/><ellipse cx="207.1" cy="367.3" rx="12.7" ry="3.2" fill="#5c5c5c" stroke="#383838" stroke-width="0.8"/><ellipse cx="60.1" cy="374.3" rx="10.6" ry="3.5" fill="#6e6e6e" stroke="#383838" stroke-width="0.8"/><ellipse cx="82.3" cy="374.7" rx="10.1" ry="3.8" fill="#646464" stroke="#383838" stroke-width="0.8"/><ellipse cx="108.3" cy="375.7" rx="14.8" ry="3.0" fill="#646464" stroke="#383838" stroke-width="0.8"/><ellipse cx="134.2" cy="375.9" rx="10.2" ry="3.4" fill="#646464" stroke="#383838" stroke-width="0.8"/><ellipse cx="153.1" cy="374.9" rx="8.2" ry="2.6" fill="#828282" stroke="#383838" stroke-width="0.8"/><ellipse cx="172.0" cy="374.0" rx="9.4" ry="2.7" fill="#828282" stroke="#383838" stroke-width="0.8"/><ellipse cx="190.6" cy="374.7" rx="7.1" ry="3.3" fill="#6e6e6e" stroke="#383838" stroke-width="0.8"/><ellipse cx="211.5" cy="375.2" rx="10.9" ry="3.6" fill="#6e6e6e" stroke="#383838" stroke-width="0.8"/><ellipse cx="56.3" cy="380.8" rx="8.8" ry="3.5" fill="#6e6e6e" stroke="#383838" stroke-width="0.8"/><ellipse cx="82.0" cy="379.8" rx="14.5" ry="3.7" fill="#5c5c5c" stroke="#383838" stroke-width="0.8"/><ellipse cx="108.9" cy="379.5" rx="10.4" ry="2.6" fill="#787878" stroke="#383838" stroke-width="0.8"/><ellipse cx="133.0" cy="379.9" rx="12.6" ry="3.6" fill="#828282" stroke="#383838" stroke-width="0.8"/><ellipse cx="158.5" cy="381.5" rx="11.2" ry="3.8" fill="#6e6e6e" stroke="#383838" stroke-width="0.8"/><ellipse cx="182.3" cy="381.3" rx="11.5" ry="3.3" fill="#787878" stroke="#383838" stroke-width="0.8"/><ellipse cx="209.1" cy="381.1" rx="14.3" ry="2.7" fill="#5c5c5c" stroke="#383838" stroke-width="0.8"/></g></g>
<path d="M49,358 Q90,354 130,357 T208,360 V363 H49 Z" fill="#3a3a3a" opacity="0.6"/>
<rect x="49" y="311" width="159" height="136" fill="none"/>
<rect x="49" y="449" width="159" height="134" fill="url(#sem2)"/>
<path d="M137,487 Q150,481 175,484 Q195,486 196,493 Q180,496 140,492 Z" fill="#777" stroke="#4a4a4a" stroke-width="0.7"/>
<path d="M49,492 H208 M49,497 Q120,494 208,498 M49,501 H208" stroke="#7e7e7e" stroke-width="1" fill="none"/>
<path d="M139,508.5 Q170,507 208,507" stroke="#d8d8d8" stroke-width="2" fill="none"/>
<ellipse cx="67.5" cy="509" rx="18" ry="4" fill="#8e8e8e"/>
<path d="M104,505 Q102,515 110,526 M75,514 Q80,520 72,526" stroke="#7a7a7a" stroke-width="1" fill="none"/>
<rect x="211" y="311" width="159" height="136" fill="#060308"/>
<rect x="211" y="448" width="159" height="135" fill="#060308"/>
<line x1="211" y1="448" x2="370" y2="448" stroke="#444" stroke-width="0.8"/>
<path d="M221.5,335.6h1.3v1.3h-1.3zM269.9,388.7h1.3v1.3h-1.3zM232.7,360.5h1.3v1.3h-1.3zM351.9,443.4h1.3v1.3h-1.3zM315.1,404.6h1.3v1.3h-1.3zM303.8,330.8h1.3v1.3h-1.3zM217.5,314.4h1.3v1.3h-1.3zM354.9,405.9h1.3v1.3h-1.3zM363.2,314.8h1.3v1.3h-1.3zM311.9,376.6h1.3v1.3h-1.3zM326.7,354.7h1.3v1.3h-1.3zM368.9,322.1h1.3v1.3h-1.3zM297.7,410.8h1.3v1.3h-1.3zM353.3,410.8h1.3v1.3h-1.3zM322.5,418.3h1.3v1.3h-1.3zM355.7,359.1h1.3v1.3h-1.3zM319.6,432.7h1.3v1.3h-1.3zM348.8,367.9h1.3v1.3h-1.3zM336.1,427.7h1.3v1.3h-1.3zM301.9,395.7h1.3v1.3h-1.3zM272.0,390.1h1.3v1.3h-1.3zM307.6,322.7h1.3v1.3h-1.3zM312.4,445.1h1.3v1.3h-1.3zM350.1,409.6h1.3v1.3h-1.3zM273.0,410.5h1.3v1.3h-1.3zM303.2,371.0h1.3v1.3h-1.3zM343.6,323.2h1.3v1.3h-1.3zM329.8,316.0h1.3v1.3h-1.3zM306.4,376.4h1.3v1.3h-1.3zM248.1,405.6h1.3v1.3h-1.3zM290.1,394.3h1.3v1.3h-1.3zM356.5,346.3h1.3v1.3h-1.3zM213.8,352.3h1.3v1.3h-1.3zM318.5,339.1h1.3v1.3h-1.3zM238.6,433.4h1.3v1.3h-1.3zM315.6,371.2h1.3v1.3h-1.3zM352.0,355.8h1.3v1.3h-1.3zM316.5,338.6h1.3v1.3h-1.3zM279.7,420.0h1.3v1.3h-1.3zM355.5,430.0h1.3v1.3h-1.3zM272.4,390.1h1.3v1.3h-1.3zM261.7,330.2h1.3v1.3h-1.3zM289.9,424.2h1.3v1.3h-1.3zM345.2,407.3h1.3v1.3h-1.3zM361.2,349.1h1.3v1.3h-1.3zM238.6,372.4h1.3v1.3h-1.3zM255.2,340.7h1.3v1.3h-1.3zM277.0,395.8h1.3v1.3h-1.3zM289.5,354.3h1.3v1.3h-1.3zM343.7,443.6h1.3v1.3h-1.3zM283.0,322.0h1.3v1.3h-1.3zM216.9,429.0h1.3v1.3h-1.3zM218.5,407.0h1.3v1.3h-1.3zM301.6,353.4h1.3v1.3h-1.3zM336.3,314.6h1.3v1.3h-1.3zM233.3,372.9h1.3v1.3h-1.3zM215.9,423.2h1.3v1.3h-1.3zM249.3,330.9h1.3v1.3h-1.3zM219.4,396.3h1.3v1.3h-1.3zM282.1,396.4h1.3v1.3h-1.3zM314.8,420.2h1.3v1.3h-1.3zM362.5,403.7h1.3v1.3h-1.3zM243.3,375.7h1.3v1.3h-1.3zM240.1,313.4h1.3v1.3h-1.3zM286.1,407.7h1.3v1.3h-1.3zM240.1,348.5h1.3v1.3h-1.3zM266.3,405.4h1.3v1.3h-1.3zM293.7,394.3h1.3v1.3h-1.3zM330.7,364.7h1.3v1.3h-1.3zM336.3,433.4h1.3v1.3h-1.3zM225.7,437.0h1.3v1.3h-1.3zM325.4,329.4h1.3v1.3h-1.3zM283.2,395.8h1.3v1.3h-1.3zM354.9,362.5h1.3v1.3h-1.3zM301.3,429.8h1.3v1.3h-1.3zM337.1,438.5h1.3v1.3h-1.3zM284.8,399.3h1.3v1.3h-1.3zM244.2,408.7h1.3v1.3h-1.3zM340.5,398.0h1.3v1.3h-1.3zM324.7,340.6h1.3v1.3h-1.3zM353.3,443.4h1.3v1.3h-1.3zM365.4,384.0h1.3v1.3h-1.3zM336.2,354.9h1.3v1.3h-1.3zM354.9,426.7h1.3v1.3h-1.3zM266.7,323.1h1.3v1.3h-1.3zM281.2,385.7h1.3v1.3h-1.3zM332.6,377.3h1.3v1.3h-1.3zM216.5,420.4h1.3v1.3h-1.3zM222.1,419.2h1.3v1.3h-1.3zM239.1,356.9h1.3v1.3h-1.3zM335.7,330.8h1.3v1.3h-1.3zM235.3,381.2h1.3v1.3h-1.3zM325.6,424.6h1.3v1.3h-1.3zM320.2,438.7h1.3v1.3h-1.3zM289.3,439.2h1.3v1.3h-1.3zM225.5,341.7h1.3v1.3h-1.3zM294.7,350.9h1.3v1.3h-1.3zM326.4,397.6h1.3v1.3h-1.3zM294.1,425.0h1.3v1.3h-1.3zM299.9,353.8h1.3v1.3h-1.3zM271.9,425.3h1.3v1.3h-1.3zM353.4,339.9h1.3v1.3h-1.3zM345.6,441.8h1.3v1.3h-1.3zM294.3,388.8h1.3v1.3h-1.3zM243.6,383.8h1.3v1.3h-1.3zM291.0,393.1h1.3v1.3h-1.3zM216.4,441.9h1.3v1.3h-1.3zM293.0,365.7h1.3v1.3h-1.3zM337.8,387.4h1.3v1.3h-1.3zM289.1,404.6h1.3v1.3h-1.3zM222.3,384.2h1.3v1.3h-1.3zM277.0,440.2h1.3v1.3h-1.3zM357.0,348.1h1.3v1.3h-1.3zM286.3,329.0h1.3v1.3h-1.3zM280.1,421.3h1.3v1.3h-1.3zM353.4,375.9h1.3v1.3h-1.3zM261.8,337.7h1.3v1.3h-1.3zM309.0,436.0h1.3v1.3h-1.3zM232.3,416.4h1.3v1.3h-1.3zM215.6,338.0h1.3v1.3h-1.3zM247.7,404.1h1.3v1.3h-1.3zM262.6,359.6h1.3v1.3h-1.3zM309.3,326.1h1.3v1.3h-1.3zM326.8,328.5h1.3v1.3h-1.3zM292.1,345.6h1.3v1.3h-1.3zM243.0,383.1h1.3v1.3h-1.3zM280.6,362.3h1.3v1.3h-1.3zM276.9,382.9h1.3v1.3h-1.3zM237.1,339.4h1.3v1.3h-1.3zM311.1,397.6h1.3v1.3h-1.3zM295.2,426.1h1.3v1.3h-1.3zM308.0,426.8h1.3v1.3h-1.3zM248.5,411.3h1.3v1.3h-1.3zM339.2,433.0h1.3v1.3h-1.3zM261.6,354.2h1.3v1.3h-1.3zM356.9,341.2h1.3v1.3h-1.3zM368.7,430.9h1.3v1.3h-1.3zM233.0,344.1h1.3v1.3h-1.3zM326.1,346.8h1.3v1.3h-1.3zM227.2,423.5h1.3v1.3h-1.3zM278.2,417.9h1.3v1.3h-1.3zM231.8,366.0h1.3v1.3h-1.3zM319.6,314.4h1.3v1.3h-1.3zM243.5,403.4h1.3v1.3h-1.3zM355.1,441.8h1.3v1.3h-1.3zM230.1,379.8h1.3v1.3h-1.3zM331.0,379.4h1.3v1.3h-1.3zM319.7,337.3h1.3v1.3h-1.3zM223.1,326.2h1.3v1.3h-1.3zM217.9,385.9h1.3v1.3h-1.3zM292.8,388.2h1.3v1.3h-1.3zM235.0,336.7h1.3v1.3h-1.3zM244.0,424.6h1.3v1.3h-1.3zM367.5,436.2h1.3v1.3h-1.3zM227.0,320.3h1.3v1.3h-1.3zM361.4,373.9h1.3v1.3h-1.3zM332.1,355.8h1.3v1.3h-1.3zM285.3,381.0h1.3v1.3h-1.3zM279.5,392.5h1.3v1.3h-1.3zM214.1,405.9h1.3v1.3h-1.3zM344.5,336.3h1.3v1.3h-1.3zM283.3,411.1h1.3v1.3h-1.3zM275.6,338.1h1.3v1.3h-1.3zM237.9,380.7h1.3v1.3h-1.3zM214.4,431.7h1.3v1.3h-1.3zM337.9,406.4h1.3v1.3h-1.3zM347.1,396.3h1.3v1.3h-1.3zM275.5,392.3h1.3v1.3h-1.3zM291.2,443.7h1.3v1.3h-1.3zM338.4,346.6h1.3v1.3h-1.3zM355.1,411.8h1.3v1.3h-1.3zM334.1,421.2h1.3v1.3h-1.3zM275.7,432.1h1.3v1.3h-1.3zM350.1,405.1h1.3v1.3h-1.3zM332.5,414.5h1.3v1.3h-1.3zM275.7,408.8h1.3v1.3h-1.3zM223.1,357.8h1.3v1.3h-1.3zM285.6,313.4h1.3v1.3h-1.3zM267.8,397.6h1.3v1.3h-1.3zM310.0,343.1h1.3v1.3h-1.3zM360.3,401.3h1.3v1.3h-1.3zM265.0,400.4h1.3v1.3h-1.3zM301.4,383.4h1.3v1.3h-1.3zM273.2,446.0h1.3v1.3h-1.3zM312.8,406.0h1.3v1.3h-1.3zM331.6,443.3h1.3v1.3h-1.3zM215.6,394.5h1.3v1.3h-1.3zM328.0,346.4h1.3v1.3h-1.3zM275.0,318.8h1.3v1.3h-1.3zM242.7,362.3h1.3v1.3h-1.3zM227.5,345.6h1.3v1.3h-1.3zM354.2,385.7h1.3v1.3h-1.3zM291.7,441.6h1.3v1.3h-1.3zM301.2,445.3h1.3v1.3h-1.3zM312.2,420.5h1.3v1.3h-1.3zM224.0,392.1h1.3v1.3h-1.3zM331.2,318.0h1.3v1.3h-1.3zM358.0,333.4h1.3v1.3h-1.3zM286.1,334.7h1.3v1.3h-1.3zM289.8,393.9h1.3v1.3h-1.3zM221.2,438.7h1.3v1.3h-1.3zM278.1,382.6h1.3v1.3h-1.3zM305.9,361.0h1.3v1.3h-1.3zM256.9,399.8h1.3v1.3h-1.3zM300.0,350.0h1.3v1.3h-1.3zM324.5,351.7h1.3v1.3h-1.3zM214.2,344.8h1.3v1.3h-1.3zM218.7,333.0h1.3v1.3h-1.3zM330.5,364.3h1.3v1.3h-1.3zM352.9,412.3h1.3v1.3h-1.3zM219.9,444.5h1.3v1.3h-1.3zM360.3,321.8h1.3v1.3h-1.3zM354.2,369.6h1.3v1.3h-1.3zM287.0,442.4h1.3v1.3h-1.3zM250.3,382.1h1.3v1.3h-1.3zM359.2,408.8h1.3v1.3h-1.3zM285.5,443.2h1.3v1.3h-1.3zM340.2,392.9h1.3v1.3h-1.3zM230.1,395.6h1.3v1.3h-1.3zM283.5,339.3h1.3v1.3h-1.3zM220.2,382.8h1.3v1.3h-1.3zM231.5,371.3h1.3v1.3h-1.3zM316.9,373.0h1.3v1.3h-1.3zM253.2,390.0h1.3v1.3h-1.3zM277.9,416.2h1.3v1.3h-1.3zM295.3,445.7h1.3v1.3h-1.3zM361.6,410.4h1.3v1.3h-1.3zM249.4,327.3h1.3v1.3h-1.3zM352.2,417.1h1.3v1.3h-1.3zM310.1,360.1h1.3v1.3h-1.3zM254.6,403.8h1.3v1.3h-1.3zM300.7,391.3h1.3v1.3h-1.3zM311.4,412.9h1.3v1.3h-1.3zM241.8,345.4h1.3v1.3h-1.3zM365.8,434.7h1.3v1.3h-1.3zM350.0,317.3h1.3v1.3h-1.3zM221.5,348.3h1.3v1.3h-1.3zM278.8,395.5h1.3v1.3h-1.3zM228.1,384.6h1.3v1.3h-1.3zM223.4,323.6h1.3v1.3h-1.3zM318.2,385.8h1.3v1.3h-1.3zM311.1,362.0h1.3v1.3h-1.3zM287.1,340.2h1.3v1.3h-1.3zM266.0,411.8h1.3v1.3h-1.3zM343.7,322.0h1.3v1.3h-1.3zM230.8,420.4h1.3v1.3h-1.3zM309.9,415.0h1.3v1.3h-1.3zM245.5,368.9h1.3v1.3h-1.3zM252.5,420.5h1.3v1.3h-1.3zM269.9,399.6h1.3v1.3h-1.3zM367.3,355.6h1.3v1.3h-1.3zM298.1,412.0h1.3v1.3h-1.3zM356.6,369.3h1.3v1.3h-1.3zM270.0,325.0h1.3v1.3h-1.3zM349.4,322.5h1.3v1.3h-1.3zM225.0,387.6h1.3v1.3h-1.3zM288.1,403.8h1.3v1.3h-1.3zM258.9,415.9h1.3v1.3h-1.3zM223.9,340.6h1.3v1.3h-1.3zM315.9,322.9h1.3v1.3h-1.3zM259.7,409.1h1.3v1.3h-1.3zM321.0,349.9h1.3v1.3h-1.3zM234.4,359.9h1.3v1.3h-1.3zM326.0,361.1h1.3v1.3h-1.3zM230.4,407.0h1.3v1.3h-1.3zM301.4,435.1h1.3v1.3h-1.3zM359.6,434.4h1.3v1.3h-1.3zM280.8,419.6h1.3v1.3h-1.3zM259.8,354.6h1.3v1.3h-1.3zM274.7,437.2h1.3v1.3h-1.3zM352.5,345.3h1.3v1.3h-1.3zM268.8,361.0h1.3v1.3h-1.3zM269.0,365.0h1.3v1.3h-1.3zM272.9,338.1h1.3v1.3h-1.3zM300.5,418.8h1.3v1.3h-1.3zM296.9,424.1h1.3v1.3h-1.3zM300.4,335.7h1.3v1.3h-1.3zM331.2,430.0h1.3v1.3h-1.3zM256.2,315.0h1.3v1.3h-1.3zM293.0,384.9h1.3v1.3h-1.3zM301.1,441.5h1.3v1.3h-1.3zM314.2,419.8h1.3v1.3h-1.3zM222.1,385.3h1.3v1.3h-1.3zM335.7,323.3h1.3v1.3h-1.3zM224.8,410.8h1.3v1.3h-1.3zM353.2,323.3h1.3v1.3h-1.3zM311.6,331.3h1.3v1.3h-1.3zM329.1,399.0h1.3v1.3h-1.3zM250.5,341.5h1.3v1.3h-1.3zM332.2,381.9h1.3v1.3h-1.3zM332.1,364.8h1.3v1.3h-1.3zM265.0,441.7h1.3v1.3h-1.3zM317.6,378.2h1.3v1.3h-1.3zM296.4,408.6h1.3v1.3h-1.3zM323.2,434.6h1.3v1.3h-1.3zM276.5,422.7h1.3v1.3h-1.3zM316.7,426.4h1.3v1.3h-1.3zM338.5,423.7h1.3v1.3h-1.3zM351.5,440.3h1.3v1.3h-1.3zM312.5,382.2h1.3v1.3h-1.3zM323.5,419.5h1.3v1.3h-1.3zM278.2,368.3h1.3v1.3h-1.3zM235.0,411.3h1.3v1.3h-1.3zM367.6,362.3h1.3v1.3h-1.3zM238.3,339.4h1.3v1.3h-1.3zM278.7,351.1h1.3v1.3h-1.3zM364.3,319.9h1.3v1.3h-1.3zM260.4,327.4h1.3v1.3h-1.3zM313.7,416.0h1.3v1.3h-1.3zM240.2,320.4h1.3v1.3h-1.3zM284.0,390.3h1.3v1.3h-1.3zM354.8,316.9h1.3v1.3h-1.3zM229.1,336.7h1.3v1.3h-1.3zM246.1,343.5h1.3v1.3h-1.3zM324.6,391.7h1.3v1.3h-1.3zM247.2,336.8h1.3v1.3h-1.3zM256.1,335.1h1.3v1.3h-1.3zM330.9,353.8h1.3v1.3h-1.3zM298.1,421.5h1.3v1.3h-1.3zM287.3,346.9h1.3v1.3h-1.3zM351.3,434.5h1.3v1.3h-1.3zM265.7,385.3h1.3v1.3h-1.3zM362.3,376.7h1.3v1.3h-1.3zM246.7,318.7h1.3v1.3h-1.3zM360.8,419.4h1.3v1.3h-1.3zM272.4,382.7h1.3v1.3h-1.3zM293.0,348.8h1.3v1.3h-1.3zM367.5,400.1h1.3v1.3h-1.3zM249.3,313.5h1.3v1.3h-1.3zM286.2,361.8h1.3v1.3h-1.3zM337.1,407.6h1.3v1.3h-1.3zM307.2,333.1h1.3v1.3h-1.3zM236.6,355.1h1.3v1.3h-1.3zM252.7,428.5h1.3v1.3h-1.3zM293.0,397.4h1.3v1.3h-1.3zM367.9,347.7h1.3v1.3h-1.3zM295.9,332.2h1.3v1.3h-1.3zM332.9,312.2h1.3v1.3h-1.3zM341.0,425.4h1.3v1.3h-1.3zM341.1,323.0h1.3v1.3h-1.3zM254.4,408.0h1.3v1.3h-1.3zM227.3,376.3h1.3v1.3h-1.3zM285.6,440.0h1.3v1.3h-1.3zM304.1,426.9h1.3v1.3h-1.3zM259.7,417.8h1.3v1.3h-1.3zM277.5,434.8h1.3v1.3h-1.3zM226.3,422.7h1.3v1.3h-1.3zM244.7,384.8h1.3v1.3h-1.3zM294.5,333.1h1.3v1.3h-1.3zM342.6,353.7h1.3v1.3h-1.3zM260.8,322.2h1.3v1.3h-1.3zM260.0,374.6h1.3v1.3h-1.3zM324.3,360.2h1.3v1.3h-1.3zM319.9,326.2h1.3v1.3h-1.3zM273.9,373.9h1.3v1.3h-1.3zM363.8,423.2h1.3v1.3h-1.3zM314.7,313.7h1.3v1.3h-1.3zM271.2,407.1h1.3v1.3h-1.3zM249.3,387.6h1.3v1.3h-1.3zM283.9,313.4h1.3v1.3h-1.3zM367.7,419.1h1.3v1.3h-1.3zM244.5,394.6h1.3v1.3h-1.3zM257.6,362.4h1.3v1.3h-1.3zM296.7,352.0h1.3v1.3h-1.3zM265.0,364.6h1.3v1.3h-1.3zM316.7,346.4h1.3v1.3h-1.3zM243.4,410.0h1.3v1.3h-1.3zM263.7,438.6h1.3v1.3h-1.3zM300.4,409.0h1.3v1.3h-1.3zM264.1,422.8h1.3v1.3h-1.3zM226.5,330.9h1.3v1.3h-1.3zM226.8,402.8h1.3v1.3h-1.3zM323.2,336.1h1.3v1.3h-1.3zM275.2,424.1h1.3v1.3h-1.3zM305.1,324.1h1.3v1.3h-1.3zM247.6,333.0h1.3v1.3h-1.3zM231.5,366.5h1.3v1.3h-1.3zM223.4,435.4h1.3v1.3h-1.3zM279.0,380.5h1.3v1.3h-1.3zM313.6,414.8h1.3v1.3h-1.3zM340.9,363.7h1.3v1.3h-1.3zM264.0,367.2h1.3v1.3h-1.3zM214.4,365.7h1.3v1.3h-1.3zM321.9,443.6h1.3v1.3h-1.3zM336.0,400.5h1.3v1.3h-1.3zM307.6,314.5h1.3v1.3h-1.3zM264.0,357.9h1.3v1.3h-1.3zM314.2,326.2h1.3v1.3h-1.3zM271.3,380.3h1.3v1.3h-1.3zM335.8,422.6h1.3v1.3h-1.3zM308.0,333.2h1.3v1.3h-1.3zM332.3,433.0h1.3v1.3h-1.3zM298.1,359.2h1.3v1.3h-1.3zM290.6,331.0h1.3v1.3h-1.3zM324.0,444.2h1.3v1.3h-1.3zM293.0,407.9h1.3v1.3h-1.3zM343.2,338.4h1.3v1.3h-1.3zM360.3,396.0h1.3v1.3h-1.3zM243.1,323.2h1.3v1.3h-1.3zM250.4,389.2h1.3v1.3h-1.3zM321.4,356.1h1.3v1.3h-1.3zM357.9,360.4h1.3v1.3h-1.3zM284.7,328.6h1.3v1.3h-1.3zM364.9,330.2h1.3v1.3h-1.3zM353.9,384.8h1.3v1.3h-1.3zM300.0,387.1h1.3v1.3h-1.3zM253.5,433.9h1.3v1.3h-1.3zM367.8,421.5h1.3v1.3h-1.3zM306.4,328.4h1.3v1.3h-1.3zM341.5,350.7h1.3v1.3h-1.3zM352.8,344.3h1.3v1.3h-1.3zM302.1,423.3h1.3v1.3h-1.3zM241.1,385.4h1.3v1.3h-1.3zM224.0,316.3h1.3v1.3h-1.3zM240.3,444.3h1.3v1.3h-1.3zM359.5,400.2h1.3v1.3h-1.3zM260.3,401.9h1.3v1.3h-1.3zM327.8,363.1h1.3v1.3h-1.3zM304.9,419.7h1.3v1.3h-1.3zM214.6,338.7h1.3v1.3h-1.3zM285.5,331.2h1.3v1.3h-1.3zM272.7,388.3h1.3v1.3h-1.3zM239.3,381.6h1.3v1.3h-1.3zM253.4,388.1h1.3v1.3h-1.3zM264.1,398.0h1.3v1.3h-1.3zM217.9,401.9h1.3v1.3h-1.3zM234.7,440.6h1.3v1.3h-1.3zM306.2,375.0h1.3v1.3h-1.3zM276.6,395.6h1.3v1.3h-1.3zM320.2,413.6h1.3v1.3h-1.3zM330.0,377.1h1.3v1.3h-1.3zM368.2,424.3h1.3v1.3h-1.3zM346.2,366.8h1.3v1.3h-1.3zM280.1,387.8h1.3v1.3h-1.3zM354.1,382.5h1.3v1.3h-1.3zM294.4,369.9h1.3v1.3h-1.3zM354.0,355.0h1.3v1.3h-1.3zM220.6,409.2h1.3v1.3h-1.3zM353.3,410.1h1.3v1.3h-1.3zM305.8,412.8h1.3v1.3h-1.3zM259.8,391.5h1.3v1.3h-1.3zM223.0,328.7h1.3v1.3h-1.3zM282.2,379.4h1.3v1.3h-1.3zM274.3,319.0h1.3v1.3h-1.3zM321.1,382.5h1.3v1.3h-1.3zM249.5,353.0h1.3v1.3h-1.3zM274.1,343.6h1.3v1.3h-1.3zM222.7,434.1h1.3v1.3h-1.3zM363.7,401.2h1.3v1.3h-1.3zM348.0,368.5h1.3v1.3h-1.3zM338.4,341.7h1.3v1.3h-1.3zM329.2,388.0h1.3v1.3h-1.3zM353.8,325.2h1.3v1.3h-1.3zM336.4,328.6h1.3v1.3h-1.3zM296.4,439.4h1.3v1.3h-1.3zM212.1,344.7h1.3v1.3h-1.3zM259.0,355.5h1.3v1.3h-1.3zM221.8,431.9h1.3v1.3h-1.3zM340.0,365.2h1.3v1.3h-1.3zM268.0,390.5h1.3v1.3h-1.3zM219.2,316.2h1.3v1.3h-1.3zM353.1,353.3h1.3v1.3h-1.3zM290.3,437.1h1.3v1.3h-1.3zM365.4,375.3h1.3v1.3h-1.3zM244.4,351.6h1.3v1.3h-1.3zM356.9,432.2h1.3v1.3h-1.3zM242.7,424.3h1.3v1.3h-1.3zM267.6,375.3h1.3v1.3h-1.3zM239.0,429.9h1.3v1.3h-1.3zM368.3,339.1h1.3v1.3h-1.3zM311.3,337.7h1.3v1.3h-1.3zM350.2,318.7h1.3v1.3h-1.3zM228.7,409.3h1.3v1.3h-1.3zM261.1,432.6h1.3v1.3h-1.3zM348.5,407.6h1.3v1.3h-1.3zM233.2,405.3h1.3v1.3h-1.3zM359.2,371.7h1.3v1.3h-1.3zM224.4,341.9h1.3v1.3h-1.3zM260.2,407.2h1.3v1.3h-1.3zM242.8,336.3h1.3v1.3h-1.3zM249.0,401.1h1.3v1.3h-1.3zM336.1,361.9h1.3v1.3h-1.3zM315.9,430.5h1.3v1.3h-1.3zM304.6,342.7h1.3v1.3h-1.3zM259.2,436.2h1.3v1.3h-1.3zM316.7,349.1h1.3v1.3h-1.3zM312.5,324.1h1.3v1.3h-1.3zM366.3,371.0h1.3v1.3h-1.3zM294.9,383.1h1.3v1.3h-1.3zM219.1,392.4h1.3v1.3h-1.3zM256.7,345.6h1.3v1.3h-1.3zM338.1,323.7h1.3v1.3h-1.3zM256.8,413.3h1.3v1.3h-1.3zM250.6,349.4h1.3v1.3h-1.3zM298.1,337.0h1.3v1.3h-1.3zM352.8,444.4h1.3v1.3h-1.3zM217.3,373.9h1.3v1.3h-1.3zM329.8,363.6h1.3v1.3h-1.3zM357.9,379.0h1.3v1.3h-1.3zM240.2,386.5h1.3v1.3h-1.3zM313.3,360.2h1.3v1.3h-1.3zM315.3,416.9h1.3v1.3h-1.3zM293.1,379.8h1.3v1.3h-1.3zM344.7,403.7h1.3v1.3h-1.3zM293.7,439.5h1.3v1.3h-1.3zM239.3,416.5h1.3v1.3h-1.3zM237.9,393.5h1.3v1.3h-1.3zM248.9,371.0h1.3v1.3h-1.3zM333.4,417.4h1.3v1.3h-1.3zM336.2,343.6h1.3v1.3h-1.3zM288.8,341.6h1.3v1.3h-1.3zM303.1,378.9h1.3v1.3h-1.3zM217.5,392.0h1.3v1.3h-1.3zM324.2,388.7h1.3v1.3h-1.3zM349.0,336.1h1.3v1.3h-1.3zM235.8,314.4h1.3v1.3h-1.3zM289.9,370.2h1.3v1.3h-1.3zM281.3,347.2h1.3v1.3h-1.3zM337.4,321.7h1.3v1.3h-1.3zM354.4,388.2h1.3v1.3h-1.3zM297.3,418.1h1.3v1.3h-1.3zM249.4,331.6h1.3v1.3h-1.3zM260.8,317.7h1.3v1.3h-1.3zM261.4,395.2h1.3v1.3h-1.3zM294.5,347.5h1.3v1.3h-1.3zM304.4,323.9h1.3v1.3h-1.3zM340.8,335.0h1.3v1.3h-1.3zM252.0,333.4h1.3v1.3h-1.3zM320.4,423.3h1.3v1.3h-1.3zM335.5,320.2h1.3v1.3h-1.3zM276.5,360.8h1.3v1.3h-1.3zM246.0,442.1h1.3v1.3h-1.3zM218.6,377.6h1.3v1.3h-1.3zM331.5,444.1h1.3v1.3h-1.3zM234.7,373.0h1.3v1.3h-1.3zM329.0,317.3h1.3v1.3h-1.3zM249.8,431.3h1.3v1.3h-1.3zM234.2,364.7h1.3v1.3h-1.3zM258.8,368.9h1.3v1.3h-1.3zM224.0,316.6h1.3v1.3h-1.3zM368.4,414.3h1.3v1.3h-1.3zM327.2,342.8h1.3v1.3h-1.3zM251.8,386.0h1.3v1.3h-1.3zM249.9,373.8h1.3v1.3h-1.3zM358.4,360.8h1.3v1.3h-1.3zM264.9,443.5h1.3v1.3h-1.3zM307.9,317.3h1.3v1.3h-1.3zM275.3,399.1h1.3v1.3h-1.3zM221.2,358.0h1.3v1.3h-1.3zM321.1,427.8h1.3v1.3h-1.3zM304.7,430.8h1.3v1.3h-1.3zM284.6,364.7h1.3v1.3h-1.3zM344.4,363.1h1.3v1.3h-1.3zM334.7,340.9h1.3v1.3h-1.3zM266.5,336.6h1.3v1.3h-1.3zM298.3,334.0h1.3v1.3h-1.3zM244.0,340.7h1.3v1.3h-1.3zM285.4,353.3h1.3v1.3h-1.3zM282.2,445.1h1.3v1.3h-1.3zM318.6,427.6h1.3v1.3h-1.3zM244.1,363.3h1.3v1.3h-1.3zM223.4,404.6h1.3v1.3h-1.3zM269.0,348.8h1.3v1.3h-1.3zM214.9,336.4h1.3v1.3h-1.3zM253.2,364.7h1.3v1.3h-1.3zM357.0,407.8h1.3v1.3h-1.3zM254.2,360.4h1.3v1.3h-1.3zM236.1,437.5h1.3v1.3h-1.3zM268.5,414.6h1.3v1.3h-1.3zM325.6,433.5h1.3v1.3h-1.3zM215.2,355.2h1.3v1.3h-1.3zM272.4,323.1h1.3v1.3h-1.3zM350.5,355.6h1.3v1.3h-1.3zM333.0,381.6h1.3v1.3h-1.3zM220.6,364.8h1.3v1.3h-1.3zM249.4,317.5h1.3v1.3h-1.3zM235.7,391.8h1.3v1.3h-1.3zM217.0,353.8h1.3v1.3h-1.3zM278.6,384.9h1.3v1.3h-1.3zM233.4,406.7h1.3v1.3h-1.3zM252.9,409.2h1.3v1.3h-1.3zM316.6,331.7h1.3v1.3h-1.3zM244.2,349.6h1.3v1.3h-1.3zM323.9,366.3h1.3v1.3h-1.3zM272.7,428.0h1.3v1.3h-1.3zM247.5,351.1h1.3v1.3h-1.3zM266.2,340.9h1.3v1.3h-1.3zM218.4,315.3h1.3v1.3h-1.3zM311.0,387.8h1.3v1.3h-1.3zM339.0,442.7h1.3v1.3h-1.3zM258.8,401.8h1.3v1.3h-1.3zM356.3,341.0h1.3v1.3h-1.3zM320.2,401.3h1.3v1.3h-1.3zM362.0,428.4h1.3v1.3h-1.3zM248.8,396.8h1.3v1.3h-1.3zM226.1,369.3h1.3v1.3h-1.3zM273.6,320.1h1.3v1.3h-1.3zM272.2,356.0h1.3v1.3h-1.3zM290.0,349.5h1.3v1.3h-1.3zM236.9,365.9h1.3v1.3h-1.3zM286.6,334.3h1.3v1.3h-1.3zM316.4,344.1h1.3v1.3h-1.3zM226.6,357.8h1.3v1.3h-1.3zM278.3,332.2h1.3v1.3h-1.3zM303.5,406.0h1.3v1.3h-1.3zM298.9,405.8h1.3v1.3h-1.3zM215.6,364.4h1.3v1.3h-1.3zM269.2,320.4h1.3v1.3h-1.3zM275.5,319.3h1.3v1.3h-1.3zM289.8,390.5h1.3v1.3h-1.3zM285.6,355.6h1.3v1.3h-1.3zM251.8,315.2h1.3v1.3h-1.3zM266.5,431.5h1.3v1.3h-1.3zM300.8,347.1h1.3v1.3h-1.3zM316.9,336.9h1.3v1.3h-1.3zM285.7,394.4h1.3v1.3h-1.3zM361.9,360.6h1.3v1.3h-1.3zM302.5,438.3h1.3v1.3h-1.3zM333.1,396.1h1.3v1.3h-1.3zM309.5,367.1h1.3v1.3h-1.3zM277.2,349.0h1.3v1.3h-1.3zM342.2,429.9h1.3v1.3h-1.3zM272.0,433.9h1.3v1.3h-1.3zM218.0,330.2h1.3v1.3h-1.3zM291.6,353.4h1.3v1.3h-1.3zM268.6,442.9h1.3v1.3h-1.3zM235.5,337.8h1.3v1.3h-1.3zM247.9,403.1h1.3v1.3h-1.3zM248.8,312.1h1.3v1.3h-1.3zM297.4,364.8h1.3v1.3h-1.3zM249.6,378.1h1.3v1.3h-1.3zM314.1,385.4h1.3v1.3h-1.3zM310.0,387.1h1.3v1.3h-1.3zM342.5,441.8h1.3v1.3h-1.3zM264.4,358.5h1.3v1.3h-1.3zM351.2,354.0h1.3v1.3h-1.3zM324.4,405.2h1.3v1.3h-1.3zM319.8,441.2h1.3v1.3h-1.3zM341.4,333.4h1.3v1.3h-1.3zM309.6,377.7h1.3v1.3h-1.3zM300.5,361.5h1.3v1.3h-1.3zM256.9,412.4h1.3v1.3h-1.3zM295.8,343.8h1.3v1.3h-1.3zM251.1,355.5h1.3v1.3h-1.3zM239.9,380.8h1.3v1.3h-1.3zM231.8,320.5h1.3v1.3h-1.3zM222.8,325.7h1.3v1.3h-1.3zM322.7,327.1h1.3v1.3h-1.3zM282.9,415.5h1.3v1.3h-1.3zM287.5,333.8h1.3v1.3h-1.3zM348.0,428.6h1.3v1.3h-1.3zM220.4,346.0h1.3v1.3h-1.3zM291.7,418.7h1.3v1.3h-1.3zM273.6,407.9h1.3v1.3h-1.3zM251.5,407.9h1.3v1.3h-1.3zM263.3,356.7h1.3v1.3h-1.3zM331.2,424.9h1.3v1.3h-1.3zM342.1,388.0h1.3v1.3h-1.3zM278.0,406.7h1.3v1.3h-1.3zM309.8,423.4h1.3v1.3h-1.3zM337.8,328.8h1.3v1.3h-1.3zM271.2,401.7h1.3v1.3h-1.3zM248.3,336.7h1.3v1.3h-1.3zM214.2,390.5h1.3v1.3h-1.3zM359.7,442.0h1.3v1.3h-1.3zM233.0,404.1h1.3v1.3h-1.3zM277.8,396.6h1.3v1.3h-1.3zM274.3,437.1h1.3v1.3h-1.3zM367.2,318.5h1.3v1.3h-1.3zM324.0,327.9h1.3v1.3h-1.3zM218.7,350.3h1.3v1.3h-1.3zM326.8,445.1h1.3v1.3h-1.3zM230.9,356.2h1.3v1.3h-1.3zM216.2,384.7h1.3v1.3h-1.3zM287.8,362.0h1.3v1.3h-1.3zM260.5,419.3h1.3v1.3h-1.3zM343.7,350.0h1.3v1.3h-1.3zM273.5,394.8h1.3v1.3h-1.3zM332.2,443.5h1.3v1.3h-1.3zM273.1,405.0h1.3v1.3h-1.3zM297.7,419.2h1.3v1.3h-1.3zM235.1,335.5h1.3v1.3h-1.3zM228.8,437.1h1.3v1.3h-1.3zM251.5,377.4h1.3v1.3h-1.3zM230.9,355.4h1.3v1.3h-1.3zM215.0,387.8h1.3v1.3h-1.3zM234.6,395.8h1.3v1.3h-1.3zM255.0,342.5h1.3v1.3h-1.3zM287.7,361.0h1.3v1.3h-1.3zM252.8,318.9h1.3v1.3h-1.3zM222.1,431.6h1.3v1.3h-1.3zM260.6,322.5h1.3v1.3h-1.3zM240.7,376.8h1.3v1.3h-1.3zM368.6,339.1h1.3v1.3h-1.3zM348.2,376.9h1.3v1.3h-1.3zM277.1,420.1h1.3v1.3h-1.3zM274.2,319.7h1.3v1.3h-1.3zM298.4,400.0h1.3v1.3h-1.3zM309.8,349.1h1.3v1.3h-1.3zM359.4,427.9h1.3v1.3h-1.3zM368.1,371.4h1.3v1.3h-1.3zM342.9,409.1h1.3v1.3h-1.3zM239.6,315.6h1.3v1.3h-1.3zM238.5,327.9h1.3v1.3h-1.3zM223.7,360.1h1.3v1.3h-1.3zM330.3,353.5h1.3v1.3h-1.3zM292.7,313.4h1.3v1.3h-1.3zM245.0,440.5h1.3v1.3h-1.3zM213.7,382.7h1.3v1.3h-1.3zM339.2,418.2h1.3v1.3h-1.3zM327.5,365.5h1.3v1.3h-1.3zM338.1,422.9h1.3v1.3h-1.3zM332.5,444.1h1.3v1.3h-1.3zM227.8,439.4h1.3v1.3h-1.3zM275.2,406.5h1.3v1.3h-1.3zM251.3,433.9h1.3v1.3h-1.3zM215.7,389.3h1.3v1.3h-1.3zM247.7,364.0h1.3v1.3h-1.3zM270.0,400.0h1.3v1.3h-1.3zM339.3,360.9h1.3v1.3h-1.3zM312.2,359.4h1.3v1.3h-1.3zM255.8,433.3h1.3v1.3h-1.3zM262.5,324.6h1.3v1.3h-1.3zM264.6,411.4h1.3v1.3h-1.3zM245.2,411.6h1.3v1.3h-1.3zM297.8,403.1h1.3v1.3h-1.3zM239.8,326.2h1.3v1.3h-1.3zM234.4,358.9h1.3v1.3h-1.3zM279.6,313.3h1.3v1.3h-1.3zM290.9,366.0h1.3v1.3h-1.3zM262.5,384.0h1.3v1.3h-1.3zM361.5,339.4h1.3v1.3h-1.3zM350.2,355.0h1.3v1.3h-1.3zM330.4,326.5h1.3v1.3h-1.3zM367.0,369.6h1.3v1.3h-1.3zM363.1,341.4h1.3v1.3h-1.3zM276.1,406.6h1.3v1.3h-1.3zM239.9,348.6h1.3v1.3h-1.3zM318.3,439.0h1.3v1.3h-1.3zM262.6,336.6h1.3v1.3h-1.3zM268.1,444.6h1.3v1.3h-1.3zM235.3,397.1h1.3v1.3h-1.3zM271.4,398.3h1.3v1.3h-1.3zM245.3,394.6h1.3v1.3h-1.3zM351.4,426.8h1.3v1.3h-1.3zM310.7,379.6h1.3v1.3h-1.3zM301.1,327.3h1.3v1.3h-1.3zM343.5,404.4h1.3v1.3h-1.3zM283.2,401.2h1.3v1.3h-1.3zM277.8,363.5h1.3v1.3h-1.3zM248.1,392.5h1.3v1.3h-1.3zM301.9,381.0h1.3v1.3h-1.3zM217.1,396.1h1.3v1.3h-1.3zM282.1,391.5h1.3v1.3h-1.3zM305.3,436.8h1.3v1.3h-1.3zM235.9,374.8h1.3v1.3h-1.3zM367.9,410.9h1.3v1.3h-1.3zM261.1,410.7h1.3v1.3h-1.3zM367.3,365.9h1.3v1.3h-1.3zM348.2,329.0h1.3v1.3h-1.3zM367.4,377.8h1.3v1.3h-1.3zM248.8,424.6h1.3v1.3h-1.3zM313.9,437.7h1.3v1.3h-1.3zM342.2,418.9h1.3v1.3h-1.3zM292.3,445.2h1.3v1.3h-1.3zM222.2,428.6h1.3v1.3h-1.3zM323.7,345.6h1.3v1.3h-1.3zM338.7,372.8h1.3v1.3h-1.3zM296.2,428.0h1.3v1.3h-1.3zM242.8,349.5h1.3v1.3h-1.3zM313.1,321.9h1.3v1.3h-1.3zM299.1,417.5h1.3v1.3h-1.3zM289.0,344.4h1.3v1.3h-1.3zM337.6,426.6h1.3v1.3h-1.3zM333.0,385.6h1.3v1.3h-1.3zM354.2,418.8h1.3v1.3h-1.3zM235.8,361.0h1.3v1.3h-1.3zM227.8,316.9h1.3v1.3h-1.3zM266.3,427.9h1.3v1.3h-1.3zM342.9,327.7h1.3v1.3h-1.3zM240.5,364.1h1.3v1.3h-1.3zM345.3,394.7h1.3v1.3h-1.3zM353.6,321.6h1.3v1.3h-1.3zM367.1,339.7h1.3v1.3h-1.3zM310.8,429.5h1.3v1.3h-1.3zM326.2,338.4h1.3v1.3h-1.3zM316.9,369.7h1.3v1.3h-1.3zM214.4,357.5h1.3v1.3h-1.3zM261.5,396.4h1.3v1.3h-1.3zM255.7,392.8h1.3v1.3h-1.3zM321.1,336.2h1.3v1.3h-1.3zM232.1,405.0h1.3v1.3h-1.3zM285.2,329.3h1.3v1.3h-1.3zM230.2,438.1h1.3v1.3h-1.3zM307.8,359.9h1.3v1.3h-1.3zM242.8,445.3h1.3v1.3h-1.3zM320.6,410.7h1.3v1.3h-1.3zM268.6,353.6h1.3v1.3h-1.3zM276.1,331.6h1.3v1.3h-1.3zM311.1,368.9h1.3v1.3h-1.3zM340.8,366.8h1.3v1.3h-1.3zM283.7,379.9h1.3v1.3h-1.3zM359.8,358.4h1.3v1.3h-1.3zM322.5,343.5h1.3v1.3h-1.3zM302.9,350.2h1.3v1.3h-1.3zM349.0,350.4h1.3v1.3h-1.3zM346.2,402.7h1.3v1.3h-1.3zM283.4,437.1h1.3v1.3h-1.3zM272.9,411.6h1.3v1.3h-1.3zM306.4,372.1h1.3v1.3h-1.3zM222.1,368.2h1.3v1.3h-1.3zM256.2,371.1h1.3v1.3h-1.3zM361.9,351.3h1.3v1.3h-1.3zM321.1,402.1h1.3v1.3h-1.3zM250.4,367.1h1.3v1.3h-1.3zM232.8,432.0h1.3v1.3h-1.3zM251.5,368.4h1.3v1.3h-1.3zM265.6,421.9h1.3v1.3h-1.3zM345.5,391.2h1.3v1.3h-1.3zM297.7,325.3h1.3v1.3h-1.3zM352.8,323.8h1.3v1.3h-1.3zM269.1,362.2h1.3v1.3h-1.3zM325.5,401.7h1.3v1.3h-1.3zM266.0,432.3h1.3v1.3h-1.3zM361.1,315.1h1.3v1.3h-1.3zM311.4,374.9h1.3v1.3h-1.3zM268.8,374.3h1.3v1.3h-1.3zM261.6,401.9h1.3v1.3h-1.3zM307.1,442.0h1.3v1.3h-1.3zM365.3,445.0h1.3v1.3h-1.3zM274.0,423.0h1.3v1.3h-1.3zM314.0,405.9h1.3v1.3h-1.3zM368.6,320.9h1.3v1.3h-1.3zM284.6,365.8h1.3v1.3h-1.3zM315.0,341.2h1.3v1.3h-1.3zM367.4,340.1h1.3v1.3h-1.3zM270.1,331.2h1.3v1.3h-1.3zM274.0,411.4h1.3v1.3h-1.3zM225.1,334.4h1.3v1.3h-1.3zM313.9,395.5h1.3v1.3h-1.3zM328.5,346.0h1.3v1.3h-1.3zM339.4,409.9h1.3v1.3h-1.3zM333.8,328.0h1.3v1.3h-1.3zM285.6,314.1h1.3v1.3h-1.3zM347.0,438.6h1.3v1.3h-1.3zM352.6,315.2h1.3v1.3h-1.3zM267.1,383.8h1.3v1.3h-1.3zM295.8,326.9h1.3v1.3h-1.3zM335.9,352.4h1.3v1.3h-1.3zM291.6,328.7h1.3v1.3h-1.3zM301.2,329.4h1.3v1.3h-1.3zM225.9,380.6h1.3v1.3h-1.3zM258.2,416.2h1.3v1.3h-1.3zM250.7,367.5h1.3v1.3h-1.3zM220.5,341.2h1.3v1.3h-1.3zM282.9,386.8h1.3v1.3h-1.3zM284.1,426.0h1.3v1.3h-1.3zM228.4,425.9h1.3v1.3h-1.3zM236.3,442.0h1.3v1.3h-1.3zM294.4,366.5h1.3v1.3h-1.3zM308.1,427.8h1.3v1.3h-1.3zM363.3,367.4h1.3v1.3h-1.3zM213.7,332.6h1.3v1.3h-1.3zM340.5,410.4h1.3v1.3h-1.3zM323.9,333.0h1.3v1.3h-1.3zM295.4,315.8h1.3v1.3h-1.3zM229.3,352.3h1.3v1.3h-1.3zM363.7,398.2h1.3v1.3h-1.3zM345.1,318.2h1.3v1.3h-1.3zM277.3,322.5h1.3v1.3h-1.3zM252.9,327.0h1.3v1.3h-1.3zM356.3,356.1h1.3v1.3h-1.3zM288.8,399.6h1.3v1.3h-1.3zM351.2,438.8h1.3v1.3h-1.3zM301.2,379.1h1.3v1.3h-1.3zM353.9,364.9h1.3v1.3h-1.3zM259.0,411.1h1.3v1.3h-1.3zM252.6,361.3h1.3v1.3h-1.3zM279.4,375.9h1.3v1.3h-1.3zM268.3,369.7h1.3v1.3h-1.3zM282.8,318.6h1.3v1.3h-1.3zM343.2,320.3h1.3v1.3h-1.3zM294.9,385.4h1.3v1.3h-1.3zM274.8,341.8h1.3v1.3h-1.3zM227.6,361.8h1.3v1.3h-1.3zM261.4,376.9h1.3v1.3h-1.3zM248.2,412.4h1.3v1.3h-1.3zM288.5,313.2h1.3v1.3h-1.3zM275.8,441.5h1.3v1.3h-1.3zM213.1,391.5h1.3v1.3h-1.3zM362.8,361.0h1.3v1.3h-1.3zM305.9,361.4h1.3v1.3h-1.3zM259.3,393.6h1.3v1.3h-1.3zM304.5,354.2h1.3v1.3h-1.3zM290.1,381.2h1.3v1.3h-1.3zM330.3,319.1h1.3v1.3h-1.3zM226.6,345.8h1.3v1.3h-1.3zM254.4,418.6h1.3v1.3h-1.3zM278.8,427.2h1.3v1.3h-1.3zM275.2,350.3h1.3v1.3h-1.3zM318.7,323.5h1.3v1.3h-1.3zM366.5,423.4h1.3v1.3h-1.3zM263.5,354.5h1.3v1.3h-1.3zM340.6,417.6h1.3v1.3h-1.3zM312.8,319.6h1.3v1.3h-1.3zM331.9,318.4h1.3v1.3h-1.3zM310.1,386.0h1.3v1.3h-1.3zM357.6,397.6h1.3v1.3h-1.3zM215.5,437.2h1.3v1.3h-1.3zM330.2,389.7h1.3v1.3h-1.3zM212.9,410.7h1.3v1.3h-1.3zM277.7,403.1h1.3v1.3h-1.3zM366.4,434.8h1.3v1.3h-1.3zM223.8,416.7h1.3v1.3h-1.3zM281.2,412.7h1.3v1.3h-1.3zM271.3,372.0h1.3v1.3h-1.3zM280.6,327.8h1.3v1.3h-1.3zM262.2,410.4h1.3v1.3h-1.3zM223.2,327.5h1.3v1.3h-1.3zM342.9,401.3h1.3v1.3h-1.3zM298.1,327.2h1.3v1.3h-1.3zM230.6,353.5h1.3v1.3h-1.3zM361.8,387.1h1.3v1.3h-1.3zM356.8,340.3h1.3v1.3h-1.3zM277.1,383.9h1.3v1.3h-1.3zM343.8,328.5h1.3v1.3h-1.3zM349.2,375.3h1.3v1.3h-1.3zM216.9,369.9h1.3v1.3h-1.3zM271.3,402.4h1.3v1.3h-1.3zM357.7,378.1h1.3v1.3h-1.3zM320.3,364.0h1.3v1.3h-1.3zM334.2,326.1h1.3v1.3h-1.3zM328.5,334.3h1.3v1.3h-1.3zM304.0,339.1h1.3v1.3h-1.3zM266.4,334.0h1.3v1.3h-1.3zM266.9,391.2h1.3v1.3h-1.3zM293.6,364.1h1.3v1.3h-1.3zM302.2,424.9h1.3v1.3h-1.3zM268.2,390.2h1.3v1.3h-1.3zM287.4,443.4h1.3v1.3h-1.3zM263.5,405.5h1.3v1.3h-1.3zM248.7,347.0h1.3v1.3h-1.3zM326.7,389.0h1.3v1.3h-1.3zM252.4,320.6h1.3v1.3h-1.3zM341.5,362.6h1.3v1.3h-1.3zM324.5,370.0h1.3v1.3h-1.3zM309.0,387.0h1.3v1.3h-1.3zM365.2,433.9h1.3v1.3h-1.3zM283.6,377.2h1.3v1.3h-1.3zM248.3,412.9h1.3v1.3h-1.3zM228.1,353.1h1.3v1.3h-1.3zM345.0,316.7h1.3v1.3h-1.3zM321.7,388.1h1.3v1.3h-1.3zM298.6,356.6h1.3v1.3h-1.3zM235.8,439.4h1.3v1.3h-1.3zM332.1,420.0h1.3v1.3h-1.3zM227.3,417.1h1.3v1.3h-1.3zM246.3,338.7h1.3v1.3h-1.3zM296.0,393.7h1.3v1.3h-1.3zM231.0,414.5h1.3v1.3h-1.3zM303.4,432.5h1.3v1.3h-1.3zM357.1,404.4h1.3v1.3h-1.3zM269.2,439.4h1.3v1.3h-1.3zM324.8,351.0h1.3v1.3h-1.3zM346.6,409.4h1.3v1.3h-1.3zM253.6,345.4h1.3v1.3h-1.3zM215.2,384.0h1.3v1.3h-1.3zM251.8,351.3h1.3v1.3h-1.3zM251.7,329.6h1.3v1.3h-1.3zM288.1,348.5h1.3v1.3h-1.3zM256.8,349.2h1.3v1.3h-1.3zM291.9,429.1h1.3v1.3h-1.3zM237.1,427.2h1.3v1.3h-1.3zM346.2,393.7h1.3v1.3h-1.3zM297.4,410.3h1.3v1.3h-1.3zM295.9,400.4h1.3v1.3h-1.3zM356.3,415.9h1.3v1.3h-1.3zM252.8,319.3h1.3v1.3h-1.3zM359.1,360.6h1.3v1.3h-1.3zM335.6,343.3h1.3v1.3h-1.3zM283.1,361.6h1.3v1.3h-1.3zM326.5,438.4h1.3v1.3h-1.3zM291.4,387.8h1.3v1.3h-1.3zM266.8,343.1h1.3v1.3h-1.3zM361.1,326.8h1.3v1.3h-1.3zM359.7,400.1h1.3v1.3h-1.3zM223.3,432.8h1.3v1.3h-1.3zM228.0,387.8h1.3v1.3h-1.3zM230.8,444.5h1.3v1.3h-1.3zM260.6,428.9h1.3v1.3h-1.3zM221.6,401.3h1.3v1.3h-1.3zM222.7,316.0h1.3v1.3h-1.3zM301.6,443.7h1.3v1.3h-1.3zM319.6,426.6h1.3v1.3h-1.3zM335.2,381.8h1.3v1.3h-1.3zM224.1,382.6h1.3v1.3h-1.3zM241.0,382.6h1.3v1.3h-1.3zM267.6,378.9h1.3v1.3h-1.3zM243.0,406.5h1.3v1.3h-1.3zM277.5,377.1h1.3v1.3h-1.3zM224.4,377.3h1.3v1.3h-1.3zM299.5,442.3h1.3v1.3h-1.3zM300.1,330.1h1.3v1.3h-1.3zM259.1,357.0h1.3v1.3h-1.3zM322.2,437.8h1.3v1.3h-1.3zM365.2,439.3h1.3v1.3h-1.3zM357.3,427.1h1.3v1.3h-1.3zM358.8,314.7h1.3v1.3h-1.3zM288.9,391.1h1.3v1.3h-1.3zM319.7,394.1h1.3v1.3h-1.3zM308.3,437.1h1.3v1.3h-1.3zM225.6,381.6h1.3v1.3h-1.3zM362.6,316.3h1.3v1.3h-1.3zM229.5,428.5h1.3v1.3h-1.3zM362.3,315.2h1.3v1.3h-1.3zM217.0,423.2h1.3v1.3h-1.3zM320.1,381.6h1.3v1.3h-1.3zM303.1,413.5h1.3v1.3h-1.3zM338.8,312.1h1.3v1.3h-1.3zM222.7,418.4h1.3v1.3h-1.3zM365.1,423.7h1.3v1.3h-1.3zM276.0,357.0h1.3v1.3h-1.3zM266.4,314.0h1.3v1.3h-1.3zM332.9,347.1h1.3v1.3h-1.3zM303.9,382.5h1.3v1.3h-1.3zM264.7,402.4h1.3v1.3h-1.3zM283.4,343.4h1.3v1.3h-1.3zM350.5,335.5h1.3v1.3h-1.3zM235.5,346.0h1.3v1.3h-1.3zM287.2,417.0h1.3v1.3h-1.3zM264.3,343.9h1.3v1.3h-1.3zM314.7,346.9h1.3v1.3h-1.3zM294.1,346.2h1.3v1.3h-1.3zM349.7,336.7h1.3v1.3h-1.3zM248.5,352.4h1.3v1.3h-1.3zM263.7,409.3h1.3v1.3h-1.3zM317.8,417.9h1.3v1.3h-1.3zM296.8,322.5h1.3v1.3h-1.3zM331.9,344.8h1.3v1.3h-1.3zM246.2,367.5h1.3v1.3h-1.3zM367.4,361.7h1.3v1.3h-1.3zM268.0,434.1h1.3v1.3h-1.3zM367.5,363.9h1.3v1.3h-1.3zM233.3,417.8h1.3v1.3h-1.3zM334.8,357.3h1.3v1.3h-1.3zM336.1,362.8h1.3v1.3h-1.3zM257.1,391.5h1.3v1.3h-1.3zM328.4,375.8h1.3v1.3h-1.3zM340.5,313.9h1.3v1.3h-1.3zM290.3,363.0h1.3v1.3h-1.3zM222.2,434.5h1.3v1.3h-1.3zM234.5,339.5h1.3v1.3h-1.3zM349.9,440.7h1.3v1.3h-1.3zM358.2,357.8h1.3v1.3h-1.3zM358.1,331.0h1.3v1.3h-1.3zM324.2,438.7h1.3v1.3h-1.3zM242.2,330.2h1.3v1.3h-1.3zM318.5,430.3h1.3v1.3h-1.3zM326.1,439.2h1.3v1.3h-1.3zM283.2,361.9h1.3v1.3h-1.3zM230.9,348.6h1.3v1.3h-1.3zM359.4,321.6h1.3v1.3h-1.3zM241.0,358.6h1.3v1.3h-1.3zM219.7,353.1h1.3v1.3h-1.3zM240.7,328.5h1.3v1.3h-1.3zM294.7,384.4h1.3v1.3h-1.3zM301.1,414.1h1.3v1.3h-1.3zM294.7,438.9h1.3v1.3h-1.3zM224.8,341.9h1.3v1.3h-1.3zM224.0,353.5h1.3v1.3h-1.3zM331.4,435.8h1.3v1.3h-1.3zM291.1,333.5h1.3v1.3h-1.3zM263.9,388.2h1.3v1.3h-1.3zM258.2,418.2h1.3v1.3h-1.3zM364.7,373.6h1.3v1.3h-1.3zM306.7,425.4h1.3v1.3h-1.3zM285.0,337.6h1.3v1.3h-1.3zM360.2,443.0h1.3v1.3h-1.3zM215.8,414.2h1.3v1.3h-1.3zM274.9,319.0h1.3v1.3h-1.3zM237.6,335.2h1.3v1.3h-1.3zM327.6,340.4h1.3v1.3h-1.3zM215.1,341.4h1.3v1.3h-1.3zM337.5,378.9h1.3v1.3h-1.3zM314.5,374.3h1.3v1.3h-1.3zM240.7,314.0h1.3v1.3h-1.3zM259.8,317.6h1.3v1.3h-1.3zM252.9,394.9h1.3v1.3h-1.3zM270.0,375.4h1.3v1.3h-1.3zM310.0,354.5h1.3v1.3h-1.3zM268.0,430.4h1.3v1.3h-1.3zM303.2,367.9h1.3v1.3h-1.3zM296.8,373.7h1.3v1.3h-1.3zM264.2,434.4h1.3v1.3h-1.3zM248.6,437.4h1.3v1.3h-1.3zM345.9,430.2h1.3v1.3h-1.3zM237.5,380.2h1.3v1.3h-1.3zM366.6,350.7h1.3v1.3h-1.3zM238.8,408.9h1.3v1.3h-1.3zM248.9,390.2h1.3v1.3h-1.3zM236.7,439.0h1.3v1.3h-1.3zM256.6,325.0h1.3v1.3h-1.3zM319.9,358.5h1.3v1.3h-1.3zM299.8,378.6h1.3v1.3h-1.3zM356.8,380.9h1.3v1.3h-1.3zM271.5,312.2h1.3v1.3h-1.3zM290.0,348.1h1.3v1.3h-1.3zM302.2,396.7h1.3v1.3h-1.3zM284.6,324.1h1.3v1.3h-1.3zM290.1,376.6h1.3v1.3h-1.3zM312.7,442.0h1.3v1.3h-1.3zM256.0,371.3h1.3v1.3h-1.3zM225.3,419.2h1.3v1.3h-1.3zM248.8,423.1h1.3v1.3h-1.3zM337.3,346.1h1.3v1.3h-1.3zM353.7,379.5h1.3v1.3h-1.3zM278.9,386.4h1.3v1.3h-1.3zM360.5,377.6h1.3v1.3h-1.3zM287.7,350.9h1.3v1.3h-1.3zM344.1,379.4h1.3v1.3h-1.3zM265.8,338.3h1.3v1.3h-1.3zM245.8,423.8h1.3v1.3h-1.3zM338.1,443.1h1.3v1.3h-1.3zM356.0,403.8h1.3v1.3h-1.3zM337.2,407.4h1.3v1.3h-1.3zM339.1,419.4h1.3v1.3h-1.3zM239.7,421.2h1.3v1.3h-1.3zM259.6,344.7h1.3v1.3h-1.3zM356.4,315.1h1.3v1.3h-1.3zM292.4,358.0h1.3v1.3h-1.3zM336.3,393.8h1.3v1.3h-1.3zM355.0,437.0h1.3v1.3h-1.3zM313.2,320.6h1.3v1.3h-1.3zM316.8,326.7h1.3v1.3h-1.3zM366.2,428.8h1.3v1.3h-1.3zM260.8,336.9h1.3v1.3h-1.3zM321.0,413.6h1.3v1.3h-1.3zM366.6,395.5h1.3v1.3h-1.3zM231.7,409.4h1.3v1.3h-1.3zM221.2,428.3h1.3v1.3h-1.3zM332.7,417.2h1.3v1.3h-1.3zM349.2,388.3h1.3v1.3h-1.3zM360.1,397.6h1.3v1.3h-1.3zM289.2,363.5h1.3v1.3h-1.3zM267.5,315.1h1.3v1.3h-1.3zM237.3,418.6h1.3v1.3h-1.3zM247.9,399.6h1.3v1.3h-1.3zM333.7,405.1h1.3v1.3h-1.3zM293.0,354.3h1.3v1.3h-1.3zM254.8,337.1h1.3v1.3h-1.3zM313.7,404.0h1.3v1.3h-1.3zM359.9,356.3h1.3v1.3h-1.3zM357.6,434.1h1.3v1.3h-1.3zM257.6,439.6h1.3v1.3h-1.3zM309.2,441.0h1.3v1.3h-1.3zM333.5,356.7h1.3v1.3h-1.3zM255.8,382.0h1.3v1.3h-1.3zM288.6,316.7h1.3v1.3h-1.3zM347.4,383.8h1.3v1.3h-1.3zM286.3,411.8h1.3v1.3h-1.3zM251.2,338.7h1.3v1.3h-1.3zM303.2,344.3h1.3v1.3h-1.3zM263.4,321.4h1.3v1.3h-1.3zM220.2,359.6h1.3v1.3h-1.3zM294.7,439.2h1.3v1.3h-1.3zM312.4,367.5h1.3v1.3h-1.3zM275.9,343.5h1.3v1.3h-1.3zM286.4,440.5h1.3v1.3h-1.3zM231.1,370.0h1.3v1.3h-1.3zM319.6,414.2h1.3v1.3h-1.3zM299.1,397.9h1.3v1.3h-1.3zM359.3,432.9h1.3v1.3h-1.3zM251.4,384.5h1.3v1.3h-1.3zM368.6,382.7h1.3v1.3h-1.3zM241.7,414.7h1.3v1.3h-1.3zM220.9,332.1h1.3v1.3h-1.3zM298.6,348.5h1.3v1.3h-1.3zM325.0,409.4h1.3v1.3h-1.3zM262.1,414.8h1.3v1.3h-1.3zM313.7,406.6h1.3v1.3h-1.3zM283.7,370.0h1.3v1.3h-1.3zM228.7,375.6h1.3v1.3h-1.3zM361.9,431.1h1.3v1.3h-1.3zM220.8,321.5h1.3v1.3h-1.3zM254.3,405.1h1.3v1.3h-1.3zM280.7,329.1h1.3v1.3h-1.3zM278.8,388.8h1.3v1.3h-1.3zM328.8,366.0h1.3v1.3h-1.3zM314.0,403.3h1.3v1.3h-1.3zM308.7,318.2h1.3v1.3h-1.3zM323.5,329.2h1.3v1.3h-1.3zM220.6,375.5h1.3v1.3h-1.3zM214.6,321.8h1.3v1.3h-1.3zM273.4,374.8h1.3v1.3h-1.3zM228.6,439.8h1.3v1.3h-1.3zM345.8,377.2h1.3v1.3h-1.3zM304.3,354.3h1.3v1.3h-1.3zM366.4,328.1h1.3v1.3h-1.3zM259.8,341.6h1.3v1.3h-1.3zM347.9,380.2h1.3v1.3h-1.3zM276.4,365.4h1.3v1.3h-1.3zM351.3,346.5h1.3v1.3h-1.3zM336.2,406.9h1.3v1.3h-1.3zM282.4,361.0h1.3v1.3h-1.3zM280.6,372.7h1.3v1.3h-1.3zM261.5,395.6h1.3v1.3h-1.3zM276.5,352.7h1.3v1.3h-1.3zM333.3,373.0h1.3v1.3h-1.3zM286.3,429.9h1.3v1.3h-1.3zM283.4,362.4h1.3v1.3h-1.3zM353.0,442.8h1.3v1.3h-1.3zM335.4,365.8h1.3v1.3h-1.3zM317.4,411.3h1.3v1.3h-1.3zM258.5,409.0h1.3v1.3h-1.3zM361.1,399.9h1.3v1.3h-1.3zM317.0,370.3h1.3v1.3h-1.3zM314.6,342.3h1.3v1.3h-1.3zM332.9,384.2h1.3v1.3h-1.3zM365.9,357.8h1.3v1.3h-1.3zM323.7,314.2h1.3v1.3h-1.3zM277.3,414.7h1.3v1.3h-1.3zM252.7,394.2h1.3v1.3h-1.3zM246.7,365.4h1.3v1.3h-1.3zM368.0,338.3h1.3v1.3h-1.3zM355.3,320.0h1.3v1.3h-1.3zM303.5,422.1h1.3v1.3h-1.3zM343.5,364.4h1.3v1.3h-1.3zM304.7,407.4h1.3v1.3h-1.3zM331.6,412.1h1.3v1.3h-1.3zM302.9,345.7h1.3v1.3h-1.3zM322.7,387.2h1.3v1.3h-1.3zM297.5,444.3h1.3v1.3h-1.3zM233.4,416.6h1.3v1.3h-1.3zM263.0,409.4h1.3v1.3h-1.3zM361.2,348.8h1.3v1.3h-1.3zM301.0,382.8h1.3v1.3h-1.3zM289.7,334.4h1.3v1.3h-1.3zM310.2,431.7h1.3v1.3h-1.3zM316.1,350.7h1.3v1.3h-1.3zM338.5,368.3h1.3v1.3h-1.3zM234.8,393.2h1.3v1.3h-1.3zM284.3,383.0h1.3v1.3h-1.3zM367.6,388.3h1.3v1.3h-1.3zM361.7,359.3h1.3v1.3h-1.3zM331.2,322.1h1.3v1.3h-1.3zM259.2,404.7h1.3v1.3h-1.3zM320.4,423.0h1.3v1.3h-1.3zM271.7,348.7h1.3v1.3h-1.3zM268.3,384.0h1.3v1.3h-1.3zM215.8,362.2h1.3v1.3h-1.3zM315.2,331.9h1.3v1.3h-1.3zM260.8,428.9h1.3v1.3h-1.3zM358.6,345.5h1.3v1.3h-1.3zM239.9,327.8h1.3v1.3h-1.3zM225.5,418.4h1.3v1.3h-1.3zM328.0,347.4h1.3v1.3h-1.3zM288.8,405.2h1.3v1.3h-1.3zM216.4,421.7h1.3v1.3h-1.3zM346.9,340.3h1.3v1.3h-1.3zM322.4,405.7h1.3v1.3h-1.3zM264.9,429.7h1.3v1.3h-1.3zM246.3,375.5h1.3v1.3h-1.3zM261.3,371.2h1.3v1.3h-1.3zM339.5,388.4h1.3v1.3h-1.3zM307.7,444.3h1.3v1.3h-1.3zM247.1,341.8h1.3v1.3h-1.3zM309.3,332.1h1.3v1.3h-1.3zM363.4,357.7h1.3v1.3h-1.3zM281.1,369.8h1.3v1.3h-1.3zM341.9,434.7h1.3v1.3h-1.3zM318.3,335.0h1.3v1.3h-1.3zM267.8,406.7h1.3v1.3h-1.3zM245.9,430.3h1.3v1.3h-1.3zM348.9,342.4h1.3v1.3h-1.3zM269.2,342.7h1.3v1.3h-1.3zM324.8,318.3h1.3v1.3h-1.3zM321.2,320.4h1.3v1.3h-1.3zM344.1,384.8h1.3v1.3h-1.3zM303.6,324.8h1.3v1.3h-1.3zM218.9,359.3h1.3v1.3h-1.3zM366.6,392.4h1.3v1.3h-1.3zM347.4,320.4h1.3v1.3h-1.3zM228.0,314.8h1.3v1.3h-1.3zM321.4,335.6h1.3v1.3h-1.3zM254.8,401.4h1.3v1.3h-1.3zM321.2,355.2h1.3v1.3h-1.3zM285.4,350.7h1.3v1.3h-1.3zM300.1,359.7h1.3v1.3h-1.3zM268.5,345.3h1.3v1.3h-1.3zM257.9,347.0h1.3v1.3h-1.3zM214.5,353.6h1.3v1.3h-1.3zM304.9,348.0h1.3v1.3h-1.3zM229.7,425.4h1.3v1.3h-1.3zM285.6,380.6h1.3v1.3h-1.3zM261.0,430.9h1.3v1.3h-1.3zM330.4,395.4h1.3v1.3h-1.3zM315.5,404.8h1.3v1.3h-1.3zM290.6,367.4h1.3v1.3h-1.3zM273.2,379.6h1.3v1.3h-1.3zM285.6,382.9h1.3v1.3h-1.3z" fill="#6a3078" opacity="0.75"/>
<path d="M295.7,553.9h1.6v1.6h-1.6zM352.1,478.8h1.6v1.6h-1.6zM215.5,489.0h1.6v1.6h-1.6zM217.0,554.9h1.6v1.6h-1.6zM309.4,487.0h1.6v1.6h-1.6zM242.0,564.5h1.6v1.6h-1.6zM343.3,539.9h1.6v1.6h-1.6zM320.6,548.0h1.6v1.6h-1.6zM283.4,501.9h1.6v1.6h-1.6zM298.8,566.1h1.6v1.6h-1.6zM367.6,571.0h1.6v1.6h-1.6zM343.2,458.9h1.6v1.6h-1.6zM250.8,578.1h1.6v1.6h-1.6zM297.3,517.5h1.6v1.6h-1.6zM260.6,563.6h1.6v1.6h-1.6zM293.1,580.7h1.6v1.6h-1.6zM223.9,581.1h1.6v1.6h-1.6zM214.1,468.7h1.6v1.6h-1.6zM273.2,534.1h1.6v1.6h-1.6zM229.4,523.8h1.6v1.6h-1.6zM359.5,506.9h1.6v1.6h-1.6zM331.7,527.7h1.6v1.6h-1.6zM303.4,472.0h1.6v1.6h-1.6zM284.8,568.7h1.6v1.6h-1.6zM317.8,477.8h1.6v1.6h-1.6zM282.2,521.3h1.6v1.6h-1.6zM264.9,525.8h1.6v1.6h-1.6zM311.2,451.4h1.6v1.6h-1.6zM246.5,536.3h1.6v1.6h-1.6zM245.7,458.7h1.6v1.6h-1.6zM331.6,493.4h1.6v1.6h-1.6zM362.4,523.3h1.6v1.6h-1.6zM227.9,533.7h1.6v1.6h-1.6zM253.2,557.3h1.6v1.6h-1.6zM325.7,549.9h1.6v1.6h-1.6zM221.0,453.6h1.6v1.6h-1.6zM337.3,467.7h1.6v1.6h-1.6zM243.7,453.0h1.6v1.6h-1.6zM237.7,512.0h1.6v1.6h-1.6zM362.4,491.7h1.6v1.6h-1.6zM252.7,559.1h1.6v1.6h-1.6zM241.0,533.5h1.6v1.6h-1.6zM308.6,573.4h1.6v1.6h-1.6zM218.9,523.9h1.6v1.6h-1.6zM272.1,558.5h1.6v1.6h-1.6zM251.6,544.1h1.6v1.6h-1.6zM241.1,514.8h1.6v1.6h-1.6zM364.0,480.9h1.6v1.6h-1.6zM255.8,571.0h1.6v1.6h-1.6zM317.9,457.8h1.6v1.6h-1.6zM241.3,480.5h1.6v1.6h-1.6zM257.5,561.3h1.6v1.6h-1.6zM322.0,579.3h1.6v1.6h-1.6zM317.1,532.5h1.6v1.6h-1.6zM272.1,544.4h1.6v1.6h-1.6zM289.5,456.8h1.6v1.6h-1.6zM289.2,500.1h1.6v1.6h-1.6zM295.4,455.5h1.6v1.6h-1.6zM216.4,579.7h1.6v1.6h-1.6zM270.3,492.9h1.6v1.6h-1.6zM235.3,527.8h1.6v1.6h-1.6zM355.6,473.0h1.6v1.6h-1.6zM290.5,515.5h1.6v1.6h-1.6zM332.2,524.2h1.6v1.6h-1.6zM249.5,474.2h1.6v1.6h-1.6zM325.8,459.4h1.6v1.6h-1.6zM347.8,453.4h1.6v1.6h-1.6zM241.8,511.2h1.6v1.6h-1.6zM344.5,531.4h1.6v1.6h-1.6zM329.1,550.2h1.6v1.6h-1.6zM325.4,455.9h1.6v1.6h-1.6zM341.6,468.6h1.6v1.6h-1.6zM237.5,454.0h1.6v1.6h-1.6zM216.5,565.6h1.6v1.6h-1.6zM271.8,460.5h1.6v1.6h-1.6zM219.3,561.6h1.6v1.6h-1.6zM306.4,570.9h1.6v1.6h-1.6zM217.9,464.0h1.6v1.6h-1.6zM257.0,474.4h1.6v1.6h-1.6zM229.6,475.7h1.6v1.6h-1.6zM312.5,471.4h1.6v1.6h-1.6zM238.5,520.2h1.6v1.6h-1.6zM271.0,468.9h1.6v1.6h-1.6zM301.2,516.6h1.6v1.6h-1.6zM272.9,512.1h1.6v1.6h-1.6zM218.2,530.8h1.6v1.6h-1.6zM242.4,493.7h1.6v1.6h-1.6zM213.5,567.1h1.6v1.6h-1.6zM304.3,501.2h1.6v1.6h-1.6zM297.1,574.0h1.6v1.6h-1.6zM232.7,500.0h1.6v1.6h-1.6zM323.2,498.5h1.6v1.6h-1.6zM323.0,569.8h1.6v1.6h-1.6zM218.4,486.8h1.6v1.6h-1.6zM258.0,548.8h1.6v1.6h-1.6zM335.1,542.0h1.6v1.6h-1.6zM357.2,473.7h1.6v1.6h-1.6zM273.8,562.4h1.6v1.6h-1.6zM332.2,464.0h1.6v1.6h-1.6zM365.8,547.5h1.6v1.6h-1.6zM347.9,497.2h1.6v1.6h-1.6zM307.1,576.5h1.6v1.6h-1.6zM353.0,525.8h1.6v1.6h-1.6zM351.7,581.9h1.6v1.6h-1.6zM343.8,536.2h1.6v1.6h-1.6zM362.8,468.1h1.6v1.6h-1.6zM275.4,524.0h1.6v1.6h-1.6zM232.7,552.8h1.6v1.6h-1.6zM221.8,532.6h1.6v1.6h-1.6zM255.9,491.9h1.6v1.6h-1.6zM307.3,474.5h1.6v1.6h-1.6zM282.3,563.0h1.6v1.6h-1.6zM366.9,483.9h1.6v1.6h-1.6zM269.4,541.3h1.6v1.6h-1.6zM241.8,561.9h1.6v1.6h-1.6zM243.2,523.0h1.6v1.6h-1.6zM265.3,449.1h1.6v1.6h-1.6zM212.2,449.3h1.6v1.6h-1.6zM263.5,485.6h1.6v1.6h-1.6zM367.6,533.8h1.6v1.6h-1.6zM222.2,544.2h1.6v1.6h-1.6zM248.5,513.0h1.6v1.6h-1.6zM325.5,562.9h1.6v1.6h-1.6zM358.8,505.0h1.6v1.6h-1.6zM261.9,501.9h1.6v1.6h-1.6zM261.1,547.6h1.6v1.6h-1.6zM284.7,540.2h1.6v1.6h-1.6zM235.9,553.1h1.6v1.6h-1.6zM363.8,476.0h1.6v1.6h-1.6zM308.8,470.6h1.6v1.6h-1.6zM217.5,504.1h1.6v1.6h-1.6zM240.8,546.2h1.6v1.6h-1.6zM301.9,538.7h1.6v1.6h-1.6zM364.0,456.7h1.6v1.6h-1.6zM227.4,453.8h1.6v1.6h-1.6zM284.1,558.7h1.6v1.6h-1.6zM319.4,521.9h1.6v1.6h-1.6zM346.4,498.5h1.6v1.6h-1.6zM229.7,534.3h1.6v1.6h-1.6zM216.0,479.5h1.6v1.6h-1.6zM216.7,470.5h1.6v1.6h-1.6zM222.0,519.7h1.6v1.6h-1.6zM232.1,529.3h1.6v1.6h-1.6zM341.4,494.8h1.6v1.6h-1.6zM230.9,538.3h1.6v1.6h-1.6zM326.4,566.6h1.6v1.6h-1.6zM299.0,526.4h1.6v1.6h-1.6zM347.5,539.1h1.6v1.6h-1.6zM365.1,487.2h1.6v1.6h-1.6zM333.6,533.2h1.6v1.6h-1.6zM285.5,450.4h1.6v1.6h-1.6zM286.8,484.0h1.6v1.6h-1.6zM306.4,516.8h1.6v1.6h-1.6zM292.1,456.8h1.6v1.6h-1.6zM232.7,529.7h1.6v1.6h-1.6zM319.1,580.7h1.6v1.6h-1.6zM336.5,487.6h1.6v1.6h-1.6zM283.5,516.3h1.6v1.6h-1.6zM338.2,501.5h1.6v1.6h-1.6zM356.5,513.4h1.6v1.6h-1.6zM274.5,512.8h1.6v1.6h-1.6zM268.1,582.0h1.6v1.6h-1.6zM219.3,502.2h1.6v1.6h-1.6zM224.5,539.2h1.6v1.6h-1.6zM235.7,468.8h1.6v1.6h-1.6zM278.5,529.1h1.6v1.6h-1.6zM331.9,508.1h1.6v1.6h-1.6zM258.3,497.9h1.6v1.6h-1.6zM351.5,477.4h1.6v1.6h-1.6zM213.8,566.8h1.6v1.6h-1.6zM287.8,466.6h1.6v1.6h-1.6zM233.4,567.4h1.6v1.6h-1.6zM329.6,457.6h1.6v1.6h-1.6zM318.0,477.4h1.6v1.6h-1.6zM282.0,529.5h1.6v1.6h-1.6zM220.0,573.4h1.6v1.6h-1.6zM264.6,468.1h1.6v1.6h-1.6zM334.5,463.5h1.6v1.6h-1.6zM217.8,535.7h1.6v1.6h-1.6zM285.8,568.8h1.6v1.6h-1.6zM336.1,476.5h1.6v1.6h-1.6zM219.1,529.3h1.6v1.6h-1.6zM285.9,489.1h1.6v1.6h-1.6zM355.9,476.7h1.6v1.6h-1.6zM313.0,458.8h1.6v1.6h-1.6zM357.0,575.2h1.6v1.6h-1.6zM309.0,491.6h1.6v1.6h-1.6zM325.7,569.2h1.6v1.6h-1.6zM336.8,454.4h1.6v1.6h-1.6zM291.1,467.6h1.6v1.6h-1.6zM297.8,575.4h1.6v1.6h-1.6zM347.8,482.1h1.6v1.6h-1.6zM298.7,491.2h1.6v1.6h-1.6zM238.4,547.9h1.6v1.6h-1.6zM331.2,493.8h1.6v1.6h-1.6zM278.0,541.6h1.6v1.6h-1.6zM326.2,510.7h1.6v1.6h-1.6zM230.6,461.7h1.6v1.6h-1.6zM238.6,558.9h1.6v1.6h-1.6zM289.9,534.7h1.6v1.6h-1.6zM269.2,498.1h1.6v1.6h-1.6zM239.6,578.6h1.6v1.6h-1.6zM307.1,466.1h1.6v1.6h-1.6zM322.3,528.5h1.6v1.6h-1.6zM308.3,551.4h1.6v1.6h-1.6zM307.5,565.6h1.6v1.6h-1.6zM364.2,503.1h1.6v1.6h-1.6zM313.8,498.8h1.6v1.6h-1.6zM276.5,497.7h1.6v1.6h-1.6zM313.6,495.9h1.6v1.6h-1.6zM267.3,561.6h1.6v1.6h-1.6zM337.6,538.9h1.6v1.6h-1.6zM344.4,500.3h1.6v1.6h-1.6zM312.9,482.4h1.6v1.6h-1.6zM261.5,462.4h1.6v1.6h-1.6zM337.4,571.5h1.6v1.6h-1.6zM259.5,499.3h1.6v1.6h-1.6zM230.4,467.9h1.6v1.6h-1.6zM312.2,567.6h1.6v1.6h-1.6zM225.2,482.9h1.6v1.6h-1.6zM331.2,479.0h1.6v1.6h-1.6zM349.8,495.9h1.6v1.6h-1.6zM286.3,475.8h1.6v1.6h-1.6zM257.6,505.5h1.6v1.6h-1.6zM255.7,546.0h1.6v1.6h-1.6zM216.7,534.0h1.6v1.6h-1.6zM338.0,492.4h1.6v1.6h-1.6zM242.1,464.9h1.6v1.6h-1.6zM224.2,554.4h1.6v1.6h-1.6zM306.7,451.0h1.6v1.6h-1.6zM283.2,528.6h1.6v1.6h-1.6zM262.1,453.6h1.6v1.6h-1.6zM278.1,496.0h1.6v1.6h-1.6zM364.6,496.8h1.6v1.6h-1.6zM356.8,564.5h1.6v1.6h-1.6zM302.2,465.8h1.6v1.6h-1.6zM338.8,461.0h1.6v1.6h-1.6zM299.5,461.9h1.6v1.6h-1.6zM226.5,503.6h1.6v1.6h-1.6zM236.5,580.9h1.6v1.6h-1.6zM302.7,568.3h1.6v1.6h-1.6zM362.2,549.8h1.6v1.6h-1.6zM313.4,511.9h1.6v1.6h-1.6zM334.1,538.0h1.6v1.6h-1.6zM236.8,519.5h1.6v1.6h-1.6zM276.9,517.6h1.6v1.6h-1.6zM324.0,540.6h1.6v1.6h-1.6zM301.5,553.9h1.6v1.6h-1.6zM341.6,461.3h1.6v1.6h-1.6zM234.8,455.3h1.6v1.6h-1.6zM237.2,576.5h1.6v1.6h-1.6zM260.6,507.4h1.6v1.6h-1.6zM285.1,524.1h1.6v1.6h-1.6zM255.9,552.6h1.6v1.6h-1.6zM264.1,561.5h1.6v1.6h-1.6zM338.1,449.2h1.6v1.6h-1.6zM298.0,461.4h1.6v1.6h-1.6zM350.8,458.2h1.6v1.6h-1.6zM254.0,551.2h1.6v1.6h-1.6zM304.8,537.7h1.6v1.6h-1.6zM276.8,518.2h1.6v1.6h-1.6zM243.9,510.5h1.6v1.6h-1.6zM252.4,538.8h1.6v1.6h-1.6zM228.8,467.3h1.6v1.6h-1.6zM243.0,519.9h1.6v1.6h-1.6zM303.3,449.4h1.6v1.6h-1.6zM367.0,560.1h1.6v1.6h-1.6zM271.6,470.1h1.6v1.6h-1.6zM341.7,578.9h1.6v1.6h-1.6zM240.0,549.6h1.6v1.6h-1.6zM340.4,573.6h1.6v1.6h-1.6zM244.8,465.0h1.6v1.6h-1.6zM237.8,479.8h1.6v1.6h-1.6zM353.3,570.0h1.6v1.6h-1.6zM286.4,466.0h1.6v1.6h-1.6zM267.3,481.1h1.6v1.6h-1.6zM313.8,544.8h1.6v1.6h-1.6zM333.8,507.1h1.6v1.6h-1.6zM283.7,511.2h1.6v1.6h-1.6zM270.1,509.5h1.6v1.6h-1.6zM319.6,543.6h1.6v1.6h-1.6zM263.2,524.4h1.6v1.6h-1.6zM234.8,455.0h1.6v1.6h-1.6zM272.8,496.8h1.6v1.6h-1.6zM217.1,459.6h1.6v1.6h-1.6zM278.8,574.3h1.6v1.6h-1.6zM343.5,453.0h1.6v1.6h-1.6zM261.7,498.0h1.6v1.6h-1.6zM260.8,467.2h1.6v1.6h-1.6zM304.7,560.6h1.6v1.6h-1.6zM271.9,472.5h1.6v1.6h-1.6zM228.5,451.0h1.6v1.6h-1.6zM332.2,479.7h1.6v1.6h-1.6zM325.7,554.2h1.6v1.6h-1.6zM225.1,474.1h1.6v1.6h-1.6zM261.5,551.3h1.6v1.6h-1.6zM327.7,489.3h1.6v1.6h-1.6zM282.9,496.2h1.6v1.6h-1.6zM286.1,554.5h1.6v1.6h-1.6zM253.1,556.8h1.6v1.6h-1.6z" fill="#9048a8" opacity="0.8"/>
<text x="51" y="327.2" font-size="13.8" font-weight="normal" fill="#ececec">Si-1@PDMS</text>
<text x="213.5" y="327.2" font-size="13.8" font-weight="normal" fill="#ececec">Si-1@PDMS</text>
<text x="348" y="327.2" font-size="13.8" font-weight="normal" fill="#ececec">Fe</text>
<text x="51.3" y="464" font-size="13.8" font-weight="normal" fill="#ececec">Si-2@PDMS</text>
<text x="213.8" y="464" font-size="13.8" font-weight="normal" fill="#ececec">Si-2@PDMS</text>
<text x="349" y="464" font-size="13.8" font-weight="normal" fill="#ececec">Fe</text>
<text x="58" y="426.3" font-size="12.5" font-weight="bold" fill="#ececec">1 μm</text>
<text x="222.5" y="426.3" font-size="12.5" font-weight="bold" fill="#ececec">5 μm</text>
<text x="57.3" y="566.6" font-size="12.5" font-weight="bold" fill="#ececec">2 μm</text>
<text x="222.5" y="565.5" font-size="12.5" font-weight="bold" fill="#ececec">5 μm</text>
<rect x="52.7" y="430.6" width="41.3" height="3.2" fill="#fff"/>
<rect x="218.4" y="430.5" width="41.2" height="3.2" fill="#fff"/>
<rect x="52.5" y="571" width="41.5" height="3.5" fill="#fff"/>
<rect x="218" y="569.8" width="41.7" height="3.3" fill="#fff"/>
<rect x="51" y="8" width="710" height="277" fill="#fff"/>
<defs>
<linearGradient id="postG" x1="0" y1="0" x2="0" y2="1"><stop offset="0" stop-color="#c6c6c6"/><stop offset="1" stop-color="#b0b0b0"/></linearGradient>
<linearGradient id="topBar" x1="0" y1="0" x2="1" y2="0"><stop offset="0" stop-color="#c4bcbc"/><stop offset="0.25" stop-color="#caacac"/><stop offset="1" stop-color="#d0b2b2"/></linearGradient>
<linearGradient id="postR" x1="0" y1="0" x2="0" y2="1"><stop offset="0" stop-color="#c4c4c4"/><stop offset="1" stop-color="#a8a8a8"/></linearGradient>
<linearGradient id="glowV" x1="0" y1="0" x2="0" y2="1"><stop offset="0" stop-color="#f6e4e4"/><stop offset="0.25" stop-color="#fcf8f8"/><stop offset="0.6" stop-color="#fcf6f6"/><stop offset="0.85" stop-color="#f8e2e2"/><stop offset="1" stop-color="#f0c6c6"/></linearGradient>
<radialGradient id="glowL" cx="0.5" cy="0.5" r="0.5"><stop offset="0" stop-color="#f2b4b4" stop-opacity="0.75"/><stop offset="1" stop-color="#f2b4b4" stop-opacity="0"/></radialGradient>
<linearGradient id="modG" x1="0" y1="0" x2="1" y2="0"><stop offset="0" stop-color="#9094a2"/><stop offset="0.2" stop-color="#747888"/><stop offset="0.5" stop-color="#828696"/><stop offset="0.8" stop-color="#70748a"/><stop offset="1" stop-color="#7c8090"/></linearGradient>
<linearGradient id="glowB" x1="0" y1="0" x2="0" y2="1"><stop offset="0" stop-color="#f0c4c4" stop-opacity="0.8"/><stop offset="1" stop-color="#f0c4c4" stop-opacity="0"/></linearGradient>
<linearGradient id="copG" x1="0" y1="0" x2="0" y2="1"><stop offset="0" stop-color="#f0c0b8"/><stop offset="0.2" stop-color="#f0c0b8"/><stop offset="0.3" stop-color="#d28474"/><stop offset="1" stop-color="#b86a60"/></linearGradient>
<linearGradient id="copS" x1="0" y1="0" x2="0" y2="1"><stop offset="0" stop-color="#cf8874"/><stop offset="1" stop-color="#bd7462"/></linearGradient>
<linearGradient id="floorG" x1="0" y1="0" x2="0" y2="1"><stop offset="0" stop-color="#f0f0f0"/><stop offset="1" stop-color="#e4e4e4"/></linearGradient>
<linearGradient id="harrG" x1="0" y1="0" x2="1" y2="0"><stop offset="0" stop-color="#d8d4ea"/><stop offset="1" stop-color="#5cb8e8"/></linearGradient>
</defs>
<!-- apparatus background -->
<rect x="60" y="18" width="310" height="106" fill="url(#glowV)"/>
<ellipse cx="80" cy="108" rx="26" ry="22" fill="url(#glowL)"/>
<ellipse cx="352" cy="100" rx="22" ry="30" fill="url(#glowL)" opacity="0.6"/>
<rect x="60" y="124" width="310" height="155" fill="#f4f4f4"/>
<rect x="60" y="124" width="310" height="16" fill="url(#glowB)"/>
<!-- floor -->
<polygon points="66,278.6 369,278.6 337.5,237 105,238" fill="url(#floorG)"/>
<polygon points="66,278.6 97.6,238 105.3,238 74,278.6" fill="#b4b4b4"/>
<polygon points="369,278.6 337.5,237 331,237 361,278.6" fill="#acacac"/>
<rect x="97.7" y="124" width="7.5" height="114" fill="#a8a8a8"/>
<rect x="331" y="120" width="6.5" height="117" fill="#a6a6a6"/>
<!-- ceiling -->
<polygon points="63,18 368,18 337,41.5 95.3,39" fill="#c6a09e"/>
<polygon points="63,18 70,18 78,22 76.7,28.6" fill="#8e8282" opacity="0.6"/>
<rect x="76.7" y="19.5" width="284" height="8.6" fill="url(#copG)"/>
<!-- modules -->
<g fill="url(#modG)">
<rect x="95.3" y="28.6" width="25" height="81"/>
<rect x="134.4" y="28.6" width="19.6" height="81"/>
<rect x="173.5" y="28.6" width="13.5" height="81"/>
<rect x="211.6" y="28.6" width="8.8" height="81"/>
<rect x="246.3" y="28.6" width="14.4" height="81"/>
<rect x="277.6" y="28.6" width="18.4" height="81"/>
<rect x="309.4" y="28.6" width="19" height="81"/>
</g>
<g stroke="#9aa0b4" stroke-width="0.7" opacity="0.55">
<line x1="99.5" y1="40" x2="99.5" y2="104"/>
<line x1="103.6" y1="40" x2="103.6" y2="104"/>
<line x1="107.8" y1="40" x2="107.8" y2="104"/>
<line x1="112.0" y1="40" x2="112.0" y2="104"/>
<line x1="116.1" y1="40" x2="116.1" y2="104"/>
<line x1="139.3" y1="40" x2="139.3" y2="104"/>
<line x1="144.2" y1="40" x2="144.2" y2="104"/>
<line x1="149.1" y1="40" x2="149.1" y2="104"/>
<line x1="178.0" y1="40" x2="178.0" y2="104"/>
<line x1="182.5" y1="40" x2="182.5" y2="104"/>
<line x1="214.5" y1="40" x2="214.5" y2="104"/>
<line x1="217.5" y1="40" x2="217.5" y2="104"/>
<line x1="251.1" y1="40" x2="251.1" y2="104"/>
<line x1="255.9" y1="40" x2="255.9" y2="104"/>
<line x1="282.2" y1="40" x2="282.2" y2="104"/>
<line x1="286.8" y1="40" x2="286.8" y2="104"/>
<line x1="291.4" y1="40" x2="291.4" y2="104"/>
</g>
<g fill="#a4a8b6" opacity="0.6"><rect x="95.3" y="28.6" width="1.6" height="81"/><rect x="134.4" y="28.6" width="1.6" height="81"/><rect x="173.5" y="28.6" width="1.6" height="81"/><rect x="211.6" y="28.6" width="1.6" height="81"/><rect x="246.3" y="28.6" width="1.6" height="81"/><rect x="277.6" y="28.6" width="1.6" height="81"/></g>
<rect x="328.4" y="28.6" width="10.6" height="81" fill="#a9a8b2"/>
<rect x="328.6" y="36" width="2.2" height="68" fill="#2a3468" opacity="0.8"/>
<g fill="#8c6e68" opacity="0.9">
<polygon points="104.5,28.6 120.3,28.6 120.3,38"/>
<polygon points="142,28.6 154,28.6 154,37"/>
<polygon points="179,28.6 187,28.6 187,36"/>
<polygon points="250,28.6 260.7,28.6 260.7,36"/>
<polygon points="284,28.6 296,28.6 296,37"/>
</g>
<!-- top connectors -->
<g fill="#2f6a58">
<rect x="168.4" y="45.5" width="5" height="3.5"/><rect x="201" y="45.5" width="10" height="3.5"/>
<rect x="234.7" y="45.5" width="11.3" height="3.5"/><rect x="267" y="45.5" width="10.5" height="3.5"/><rect x="299.6" y="45.5" width="10.5" height="3.5"/>
</g>
<!-- magenta tubes in rack -->
<g fill="none" stroke="#b02ab8" stroke-width="1.3">
<path d="M92.5,124 V50 Q92.5,47.5 95.3,47.5"/>
<path d="M127.7,110 V48 Q127.7,45.4 130.5,45.4 H134.4"/>
<path d="M163.2,110 V50 Q163.2,47 166,47 H168.4"/>
<path d="M197.8,110 V50 Q197.8,47 200.6,47"/>
<path d="M230,110 V50 Q230,47 232.8,47 H234.7"/>
<path d="M264,110 V50 Q264,47 266.8,47"/>
<path d="M297.3,110 V50 Q297.3,47 300,47"/>
<path d="M115.4,107 L119.5,111.5 M154,107 L158,111.5 M191,107 L195,111.5 M229,107 L233,111.5 M268,107 L272,111.5 M304,107 L308,111.5"/>
</g>
<!-- bottom connectors -->
<g fill="#7cc8a2">
<rect x="103.5" y="101.5" width="16" height="4.5" rx="1.5"/><rect x="142.6" y="101.5" width="15.4" height="4.5" rx="1.5"/><rect x="180.7" y="101.5" width="14.3" height="4.5" rx="1.5"/>
<rect x="218.5" y="101.5" width="15" height="4.5" rx="1.5"/><rect x="258" y="101.5" width="13.8" height="4.5" rx="1.5"/><rect x="293.8" y="101.5" width="13.9" height="4.5" rx="1.5"/><rect x="332" y="101.5" width="14" height="4.5" rx="1.5"/>
</g>
<!-- arrows up in rack -->
<g fill="#000">
<path d="M0,0 L3.3,5 H1 V14.6 H-1 V5 H-3.3 Z" transform="translate(87.5,68.7)"/>
<path d="M0,0 L3.3,5 H1 V14.6 H-1 V5 H-3.3 Z" transform="translate(123,68.7)"/>
<path d="M0,0 L3.3,5 H1 V14.6 H-1 V5 H-3.3 Z" transform="translate(158,68.7)"/>
<path d="M0,0 L3.3,5 H1 V14.6 H-1 V5 H-3.3 Z" transform="translate(192,68.7)"/>
<path d="M0,0 L3.3,5 H1 V14.6 H-1 V5 H-3.3 Z" transform="translate(224.5,68.7)"/>
<path d="M0,0 L3.3,5 H1 V14.6 H-1 V5 H-3.3 Z" transform="translate(271.3,68.7)"/>
<path d="M0,0 L3.3,5 H1 V14.6 H-1 V5 H-3.3 Z" transform="translate(305.4,68.7)"/>
</g>
<!-- shelves -->
<rect x="79.3" y="109.4" width="280.5" height="6.3" fill="url(#copS)"/>
<rect x="73" y="115.7" width="291.6" height="8.3" fill="#dcd0d0"/>
<!-- posts -->
<polygon points="54,11 63.1,11 69,283.3 59.4,283.3" fill="url(#postG)"/>
<polygon points="367.7,11 380.7,11 376.2,283.3 367,283.3" fill="url(#postR)"/>
<rect x="54" y="11" width="326.7" height="7.4" fill="url(#topBar)"/>
<polygon points="59,278.6 376.5,278.6 376.2,283.3 59.4,283.3" fill="#b8b8b8"/>
<!-- ellipse highlight -->
<ellipse cx="330.8" cy="67" rx="20.4" ry="48.7" fill="#eceef8" fill-opacity="0.3" stroke="#aab2e2" stroke-width="1.5"/>
<!-- blue connector lines -->
<line x1="330" y1="15.2" x2="505" y2="15.2" stroke="#737bc2" stroke-width="1.5"/>

<defs>
<linearGradient id="capG" x1="0" y1="0" x2="0" y2="1"><stop offset="0" stop-color="#f2ede0"/><stop offset="1" stop-color="#e2dac6"/></linearGradient>
<linearGradient id="purG" x1="0" y1="0" x2="0" y2="1"><stop offset="0" stop-color="#8a3cbc"/><stop offset="1" stop-color="#6a2296"/></linearGradient>
<linearGradient id="bluG" x1="0" y1="0" x2="0" y2="1"><stop offset="0" stop-color="#6476c4"/><stop offset="1" stop-color="#3c50aa"/></linearGradient>
<linearGradient id="pumpF" x1="0" y1="0" x2="0" y2="1"><stop offset="0" stop-color="#e6e6e6"/><stop offset="1" stop-color="#dcdcdc"/></linearGradient>
</defs>
<!-- back bottom bar -->
<rect x="105" y="236" width="226" height="2.5" fill="#b0b0b0"/>
<!-- manifold -->
<g>
<line x1="128" y1="129" x2="163" y2="129" stroke="#b02ab8" stroke-width="1.4"/>
<path d="M134,129 L146,124 L146,129" fill="none" stroke="#b02ab8" stroke-width="1.2"/>
<line x1="144.3" y1="129" x2="144.3" y2="196" stroke="#b02ab8" stroke-width="1.4"/>
<rect x="162.7" y="126.8" width="154" height="5" fill="#cc8468"/>
<g fill="#e2a488"><rect x="168" y="125.8" width="9" height="7" rx="2"/><rect x="201" y="125.8" width="11" height="7" rx="2"/><rect x="235" y="125.8" width="11" height="7" rx="2"/><rect x="269" y="125.8" width="11" height="7" rx="2"/><rect x="303" y="125.8" width="11" height="7" rx="2"/></g>
<path d="M303,130.4 L322.6,124.6" stroke="#b02ab8" stroke-width="1.8"/>
<g fill="#2a1e1e"><rect x="186" y="125" width="9" height="8.6"/><rect x="219.6" y="125" width="9" height="8.6"/><rect x="254.4" y="125" width="9" height="8.6"/><rect x="289.5" y="125" width="9" height="8.6"/></g>
<g fill="#ddd"><circle cx="190.5" cy="129.3" r="1.2"/><circle cx="224.1" cy="129.3" r="1.2"/><circle cx="258.9" cy="129.3" r="1.2"/><circle cx="294" cy="129.3" r="1.2"/></g>
<g fill="#d49a80"><rect x="187.2" y="133.5" width="6.6" height="18" rx="1.5"/><rect x="220.8" y="133.5" width="6.6" height="18" rx="1.5"/><rect x="255.6" y="133.5" width="6.6" height="18" rx="1.5"/><rect x="290.7" y="133.5" width="6.6" height="18" rx="1.5"/></g>
<g fill="#b87a64"><rect x="187.2" y="140" width="6.6" height="1.5"/><rect x="220.8" y="140" width="6.6" height="1.5"/><rect x="255.6" y="140" width="6.6" height="1.5"/><rect x="290.7" y="140" width="6.6" height="1.5"/></g>
<g font-size="10.5" font-weight="bold" fill="#111" text-anchor="middle"><text x="175.5" y="146">A</text><text x="214.6" y="146">B</text><text x="250.3" y="146">C</text><text x="285.4" y="146">D</text></g>
<g fill="#000">
<path d="M0,0 L3.3,5 H1 V12.8 H-1 V5 H-3.3 Z" transform="translate(199.1,138.5)"/>
<path d="M0,0 L3.3,5 H1 V12.8 H-1 V5 H-3.3 Z" transform="translate(233.9,138.5)"/>
<path d="M0,0 L3.3,5 H1 V12.8 H-1 V5 H-3.3 Z" transform="translate(270.5,138.5)"/>
<path d="M0,0 L3.3,-5 H1 V-12.8 H-1 V-5 H-3.3 Z" transform="translate(305.2,151.3)"/>
<path d="M0,0 L3.3,-5 H1 V-14 H-1 V-5 H-3.3 Z" transform="translate(146.2,150)"/>
</g>
<!-- gray tubes -->
<g fill="none" stroke="#9c9c9c" stroke-width="1.4">
<path d="M225.3,151 V195"/>
<path d="M225.3,187.2 H246.1 V210"/>
<path d="M258.9,151 V161.2 H253.8 V174.4 H278.6 V206"/>
<path d="M253.8,178 H261.6 V216"/>
<path d="M294,151 V162.2 H301.7 V216"/>
</g>
<rect x="251.5" y="174" width="4.5" height="6" fill="#c8886c"/>
<circle cx="226" cy="195.3" r="1" fill="#3a5ad0"/>
<path d="M190.5,151 V208 H211.4 V203.4 H235.7 V208" fill="none" stroke="#b02ab8" stroke-width="1.5"/>
<!-- long magenta left tube & box -->
<g fill="none" stroke="#bc30c8" stroke-width="1.7">
<path d="M93.3,124 V245"/>
<path d="M79,269.9 V245.7 H113"/>
<path d="M88.8,269.9 V249.8 H113"/>
<path d="M79,269.9 L95.5,246 M88.8,269.9 L101.6,250.3"/>
</g>
<!-- pump -->
<path d="M102.8,213.4 L116,197.5 Q117.5,196.4 120,196.4 H204 Q206.7,196.4 206.7,199 V213.4 Z" fill="#d4d4d4"/>
<rect x="102.8" y="213.4" width="103.9" height="57" fill="url(#pumpF)"/>
<g fill="#2a2a2a"><circle cx="108.8" cy="219.5" r="3.2"/><circle cx="200.5" cy="219.5" r="3.2"/><circle cx="109.5" cy="264.5" r="3.2"/><circle cx="200.5" cy="264.5" r="3.2"/></g>
<rect x="154.5" y="224.6" width="34.5" height="14" fill="#3a7ad0"/>
<rect x="156.5" y="226.6" width="30.5" height="10" fill="#1e2630"/>
<rect x="112.9" y="231.6" width="36.4" height="27.1" fill="#1f1f1f"/>
<circle cx="128.8" cy="245.2" r="12.1" fill="#c6c6c6"/>
<circle cx="128.8" cy="245.2" r="5.2" fill="#f4f4f4" stroke="#b0705a" stroke-width="1.8"/>
<g fill="#b07a66"><circle cx="118" cy="235.5" r="1.8"/><circle cx="141" cy="235.5" r="1.8"/><circle cx="118" cy="256" r="1.8"/><circle cx="141" cy="256" r="1.8"/></g>
<circle cx="191.5" cy="253.5" r="3.2" fill="#d4d4d4" stroke="#c0c0c0" stroke-width="0.6"/>
<g fill="#000">
<path d="M0,0 L5,-3 V-1 H14.9 V1 H5 V3 Z" transform="translate(89.6,240.6)"/>
<path d="M0,0 L-5,-3 V-1 H-14.9 V1 H-5 V3 Z" transform="translate(104.5,255.9)"/>
</g>
<!-- reactor -->
<path d="M216.7,251 Q218,239 274.4,239 Q330,239 332,251 V259 Q330,271 274.4,271 Q218,271 216.7,259 Z" fill="#989898"/>
<ellipse cx="274.4" cy="254" rx="57.7" ry="12" fill="#b0b0b0"/>
<rect x="255" y="234" width="45" height="12" fill="#6a84d4" opacity="0.7"/>
<path d="M220.3,235 H250 V252 Q235,254 220.3,252 Z" fill="url(#purG)"/>
<path d="M245.5,240.5 H278 V259 Q262,261.5 245.5,259 Z" fill="url(#bluG)"/>
<path d="M285,240 H316.7 V257.5 Q301,260 285,257.5 Z" fill="url(#bluG)"/>
<path d="M216.7,221 Q218,209.8 274.4,209.8 Q330,209.8 332,221 V227 Q330,234 274.4,234 Q218,234 216.7,227 Z" fill="#8e8e8e"/>
<ellipse cx="274.4" cy="221.5" rx="57.7" ry="11.5" fill="#a4a4a4"/>
<g fill="#d8cfb8">
<ellipse cx="246.4" cy="212.7" rx="15.3" ry="4"/><ellipse cx="278.9" cy="211.5" rx="15.9" ry="4.5"/>
<ellipse cx="233.8" cy="219.3" rx="17" ry="5.5"/><ellipse cx="261.8" cy="224.6" rx="18.9" ry="5.5"/><ellipse cx="301.4" cy="223.7" rx="18.9" ry="5.5"/>
</g>
<g fill="url(#capG)">
<ellipse cx="246.4" cy="210.7" rx="15.3" ry="4"/><ellipse cx="278.9" cy="209.5" rx="15.9" ry="4.5"/>
<ellipse cx="233.8" cy="217" rx="17" ry="5.5"/><ellipse cx="261.8" cy="222.4" rx="18.9" ry="5.5"/><ellipse cx="301.4" cy="221.5" rx="18.9" ry="5.5"/>
</g>
<defs>
<linearGradient id="tubeH" x1="0" y1="0" x2="0" y2="1"><stop offset="0" stop-color="#b8b4ae"/><stop offset="0.3" stop-color="#c9c6c1"/><stop offset="0.38" stop-color="#f2f2f0"/><stop offset="0.48" stop-color="#cdcac5"/><stop offset="1" stop-color="#aeaaa4"/></linearGradient>
<radialGradient id="sph2" cx="0.5" cy="0.5" r="0.5"><stop offset="0" stop-color="#ffffff"/><stop offset="0.7" stop-color="#fcfcff"/><stop offset="0.86" stop-color="#dedff2"/><stop offset="0.95" stop-color="#9ea2d8"/><stop offset="1" stop-color="#5d64b8"/></radialGradient>
<linearGradient id="arcL" x1="0" y1="1" x2="1" y2="0"><stop offset="0" stop-color="#63b6e4"/><stop offset="1" stop-color="#d6e8f2"/></linearGradient>
<linearGradient id="arcR" x1="0" y1="0" x2="1" y2="1"><stop offset="0" stop-color="#e8e6ec"/><stop offset="1" stop-color="#b0d4e8"/></linearGradient>
<linearGradient id="copP" x1="0" y1="0" x2="1" y2="1"><stop offset="0" stop-color="#c48a74"/><stop offset="0.6" stop-color="#d49a84"/><stop offset="1" stop-color="#e8b8a4"/></linearGradient>
</defs>
<!-- sphere -->
<circle cx="504.8" cy="91.8" r="76.5" fill="url(#sph2)"/>
<line x1="332" y1="115.2" x2="471" y2="157.5" stroke="#737bc2" stroke-width="1.5"/>
<!-- heating plate -->
<polygon points="440.3,114.3 505.2,93 572,114.3 505.2,135.8" fill="#e9e7e4" stroke="#b9b6b2" stroke-width="0.8"/>
<polygon points="441,117 505.2,138.5 572,117" fill="none" stroke="#c8c4bf" stroke-width="2.6"/>
<polyline points="441,119 505.2,140.3 572,119" fill="none" stroke="#9a948e" stroke-width="0.8"/>
<polygon points="450,114.3 505.2,96.5 562,114.3 505.2,132.3" fill="url(#copP)"/>
<!-- channel plate -->
<polygon points="440.3,89.6 506.2,67 572,90.6 505,113" fill="#e2e0dd" fill-opacity="0.88" stroke="#c4c1bd" stroke-width="0.8"/>
<polygon points="441,91.6 505,115 572,92.6" fill="none" stroke="#d8d5d0" stroke-width="1.4"/>
<g transform="matrix(0.659,-0.226,0.647,0.234,440.3,89.6)">
<path d="M7,4 H94 A5.5,5.5 0 0 1 94,15 H11 A5.5,5.5 0 0 0 11,26 H94 A5.5,5.5 0 0 1 94,37 H11 A5.5,5.5 0 0 0 11,48 H94 A5.5,5.5 0 0 1 94,59 H11 A5.5,5.5 0 0 0 11,70 H94 A5.5,5.5 0 0 1 94,81 H11 A5.5,5.5 0 0 0 11,92 H98" fill="none" stroke="#9052b0" stroke-width="1.5" vector-effect="non-scaling-stroke"/>
</g>
<!-- cover plate -->
<polygon points="440.3,66.9 505.2,45.3 572,68 506,87.6" fill="#cbc9c6" fill-opacity="0.86" stroke="#bdbab6" stroke-width="0.8"/>
<polyline points="440.3,67.8 506,88.8 572,69" fill="none" stroke="#e6e0d4" stroke-width="1.3"/>
<g fill="#f4f4f4"><circle cx="446" cy="67.5" r="0.9"/><circle cx="505" cy="47.5" r="0.9"/><circle cx="566" cy="68" r="0.9"/></g>
<!-- labels -->
<g font-size="10" font-weight="bold" fill="#1a1a1a">
<text x="392.8" y="71.8">Cover</text>
<text x="389.3" y="95.4">Channel</text>
<text x="392.8" y="121.6">Heating</text>
<text x="401.4" y="132.6">plate</text>
</g>
<g stroke="#888" stroke-width="1">
<line x1="422" y1="68" x2="440" y2="67.5"/><line x1="429" y1="92" x2="440" y2="92"/><line x1="430" y1="118" x2="440" y2="117"/>
</g>
<!-- curved arrow -->
<path d="M423.4,192.5 Q432,150 503,146 L503,147.8 Q462,150 440.6,193.7 Z" fill="url(#arcL)"/>
<path d="M509,146 Q552,150 573.8,193.7 L584,193.7 L570,206 L551.3,191.7 L562.8,192.5 Q548,160 509,148 Z" fill="url(#arcR)"/>
<!-- (b) -->
<text x="558.8" y="26" font-size="20" fill="#111">(b)</text>
<!-- dashed box -->
<rect x="596" y="13.5" width="159" height="66.5" rx="10" fill="none" stroke="#6a6a6a" stroke-width="2.5" stroke-dasharray="10,8"/>
<rect x="606" y="19.7" width="141" height="16.7" fill="url(#tubeH)"/>
<rect x="606" y="56.5" width="141" height="19.3" fill="url(#tubeH)"/>
<path d="M608,66.5 Q640,64.5 680,66 T746,66.5 L746,69.5 Q700,70 660,69.5 T608,70 Z" fill="#4a2a7c"/>
<line x1="666.8" y1="37" x2="666.8" y2="52" stroke="#3a5ee0" stroke-width="1.3"/>
<path d="M663.5,50 L666.8,56 L670,50 Z" fill="#3a5ee0"/>
<text x="674" y="50.3" font-size="12" fill="#2a3440">Loading</text>
<!-- blue arrow to molecule -->
<path d="M575.7,94.9 L650,112.6" stroke="#2244dd" stroke-width="1.9"/>
<path d="M667.7,115.4 Q652,108 642.2,103.4 Q648,108 647.6,111 Q642,113 637.7,115.4 Q652,114.5 667.7,115.4 Z" fill="#2244dd"/>
<!-- reaction chemistry -->
<polygon points="427.0,210.0 434.4,214.2 434.4,222.8 427.0,227.0 419.6,222.8 419.6,214.2" fill="none" stroke="#3a3a3a" stroke-width="1.0"/>
<line x1="427.8" y1="213.0" x2="431.4" y2="215.1" stroke="#3a3a3a" stroke-width="0.9"/>
<line x1="431.4" y1="221.9" x2="427.8" y2="224.0" stroke="#3a3a3a" stroke-width="0.9"/>
<line x1="421.8" y1="220.6" x2="421.8" y2="216.4" stroke="#3a3a3a" stroke-width="0.9"/>
<line x1="427.0" y1="210.0" x2="427.0" y2="205.5" stroke="#3a3a3a" stroke-width="1.0"/>
<text x="423.5" y="204" font-size="7" fill="#2a2a2a">CHO</text>
<text x="405.5" y="222.5" font-size="7" fill="#2a2a2a">R<tspan font-size="5" dy="1.5">1</tspan></text>
<line x1="413.0" y1="219.5" x2="418.5" y2="219.5" stroke="#3a3a3a" stroke-width="1.0"/>
<polygon points="422.5,258.0 429.9,262.2 429.9,270.8 422.5,275.0 415.1,270.8 415.1,262.2" fill="none" stroke="#3a3a3a" stroke-width="1.0"/>
<line x1="423.3" y1="261.0" x2="426.9" y2="263.1" stroke="#3a3a3a" stroke-width="0.9"/>
<line x1="426.9" y1="269.9" x2="423.3" y2="272.0" stroke="#3a3a3a" stroke-width="0.9"/>
<line x1="417.3" y1="268.6" x2="417.3" y2="264.4" stroke="#3a3a3a" stroke-width="0.9"/>
<line x1="429.9" y1="262.2" x2="436.0" y2="258.5" stroke="#3a3a3a" stroke-width="1.0"/>
<line x1="436.0" y1="258.5" x2="438.5" y2="254.5" stroke="#3a3a3a" stroke-width="1.0"/>
<line x1="436.0" y1="258.5" x2="441.5" y2="262.0" stroke="#3a3a3a" stroke-width="1.0"/>
<text x="435.3" y="253" font-size="7" fill="#2a2a2a">O</text>
<text x="441.5" y="266" font-size="7" fill="#2a2a2a">NH<tspan font-size="5" dy="1.5">2</tspan></text>
<line x1="429.9" y1="270.8" x2="434.5" y2="273.5" stroke="#3a3a3a" stroke-width="1.0"/>
<text x="435" y="280" font-size="7" fill="#2a2a2a">NH<tspan font-size="5" dy="1.5">2</tspan></text>
<text x="401.5" y="271.5" font-size="7" fill="#2a2a2a">R<tspan font-size="5" dy="1.5">2</tspan></text>
<line x1="409.0" y1="268.0" x2="414.0" y2="268.0" stroke="#3a3a3a" stroke-width="1.0"/>
<polygon points="548.6,219.2 556.0,223.4 556.0,231.9 548.6,236.2 541.2,231.9 541.2,223.4" fill="none" stroke="#3a3a3a" stroke-width="1.0"/>
<line x1="553.8" y1="225.6" x2="553.8" y2="229.8" stroke="#3a3a3a" stroke-width="0.9"/>
<line x1="547.8" y1="233.2" x2="544.2" y2="231.1" stroke="#3a3a3a" stroke-width="0.9"/>
<line x1="544.2" y1="224.3" x2="547.8" y2="222.2" stroke="#3a3a3a" stroke-width="0.9"/>
<line x1="563.3" y1="219.2" x2="570.7" y2="223.4" stroke="#3a3a3a" stroke-width="1.0"/>
<line x1="570.7" y1="223.4" x2="570.7" y2="231.9" stroke="#3a3a3a" stroke-width="1.0"/>
<line x1="570.7" y1="231.9" x2="563.3" y2="236.2" stroke="#3a3a3a" stroke-width="1.0"/>
<line x1="563.3" y1="236.2" x2="556.0" y2="231.9" stroke="#3a3a3a" stroke-width="1.0"/>
<line x1="556.0" y1="223.4" x2="563.3" y2="219.2" stroke="#3a3a3a" stroke-width="1.0"/>
<line x1="563.3" y1="219.2" x2="563.3" y2="214.2" stroke="#3a3a3a" stroke-width="1.0"/>
<text x="560.7224318643355" y="213.2" font-size="7" fill="#2a2a2a">O</text>
<text x="568.5" y="226.5" font-size="7" fill="#2a2a2a">NH</text>
<text x="559.8" y="238.5" font-size="7" fill="#2a2a2a">N</text>
<text x="560" y="244.5" font-size="7" fill="#2a2a2a">H</text>
<line x1="570.7" y1="231.9" x2="573.7" y2="233.9" stroke="#3aa05a" stroke-width="1.1"/>
<polygon points="584.5,233.5 591.9,237.8 591.9,246.2 584.5,250.5 577.1,246.2 577.1,237.8" fill="none" stroke="#3a3a3a" stroke-width="1.0"/>
<line x1="585.3" y1="236.5" x2="588.9" y2="238.6" stroke="#3a3a3a" stroke-width="0.9"/>
<line x1="588.9" y1="245.4" x2="585.3" y2="247.5" stroke="#3a3a3a" stroke-width="0.9"/>
<line x1="579.3" y1="244.1" x2="579.3" y2="239.9" stroke="#3a3a3a" stroke-width="0.9"/>
<line x1="571.2" y1="231.9" x2="577.1" y2="237.7" stroke="#3a3a3a" stroke-width="1.0"/>
<text x="529" y="232.5" font-size="7" fill="#2a2a2a">R<tspan font-size="5" dy="1.5">1</tspan></text>
<line x1="536.5" y1="228.5" x2="540.0" y2="228.5" stroke="#3a3a3a" stroke-width="1.0"/>
<text x="595" y="246" font-size="7" fill="#2a2a2a">R<tspan font-size="5" dy="1.5">2</tspan></text>
<text x="426" y="247" font-size="11" font-weight="bold" text-anchor="middle" fill="#111">+</text>
<rect x="454" y="232.3" width="56" height="2.6" fill="url(#harrG)"/>
<path d="M503,228.4 L524.8,233.6 L503,238.8 L508,233.6 Z" fill="#5ab8e8"/>
<line x1="698.2" y1="137.3" x2="743.7" y2="199.4" stroke="#86c9a2" stroke-width="1.0" />
<line x1="743.7" y1="199.4" x2="735.4" y2="230.1" stroke="#86c9a2" stroke-width="1.0" />
<line x1="619" y1="212.6" x2="743.7" y2="199.4" stroke="#86c9a2" stroke-width="1.3" stroke-dasharray="3,2.5"/>
<polygon points="689.4,131.6 683.1,128.0 683.1,120.6 689.4,117.0 695.7,120.6 695.7,128.0" fill="none" stroke="#2a2a2a" stroke-width="1.25"/>
<line x1="688.8" y1="128.9" x2="685.7" y2="127.2" stroke="#2a2a2a" stroke-width="1.125"/>
<line x1="685.7" y1="121.4" x2="688.8" y2="119.7" stroke="#2a2a2a" stroke-width="1.125"/>
<line x1="693.7" y1="122.6" x2="693.7" y2="126.0" stroke="#2a2a2a" stroke-width="1.125"/>
<line x1="693" y1="131" x2="696" y2="139" stroke="#2a2a2a" stroke-width="1.2" />
<line x1="696" y1="139" x2="692" y2="146" stroke="#2a2a2a" stroke-width="1.2" />
<text x="693" y="129.5" font-size="6.5" fill="#222" font-weight="normal">N</text>
<text x="689" y="148" font-size="6.5" fill="#222" font-weight="normal">N</text>
<polygon points="687.8,166.5 681.8,162.3 682.4,155.0 689.0,151.9 695.0,156.1 694.4,163.4" fill="none" stroke="#2a2a2a" stroke-width="1.25"/>
<line x1="687.4" y1="163.7" x2="684.5" y2="161.7" stroke="#2a2a2a" stroke-width="1.125"/>
<line x1="685.0" y1="156.0" x2="688.2" y2="154.6" stroke="#2a2a2a" stroke-width="1.125"/>
<line x1="692.8" y1="157.8" x2="692.5" y2="161.3" stroke="#2a2a2a" stroke-width="1.125"/>
<polygon points="683.2,190.4 677.2,186.2 677.8,178.9 684.4,175.8 690.4,180.0 689.8,187.3" fill="none" stroke="#2a2a2a" stroke-width="1.25"/>
<line x1="682.8" y1="187.6" x2="679.9" y2="185.6" stroke="#2a2a2a" stroke-width="1.125"/>
<line x1="680.4" y1="179.9" x2="683.6" y2="178.5" stroke="#2a2a2a" stroke-width="1.125"/>
<line x1="688.2" y1="181.7" x2="687.9" y2="185.2" stroke="#2a2a2a" stroke-width="1.125"/>
<line x1="690" y1="151.9" x2="689.5" y2="146" stroke="#2a2a2a" stroke-width="1.2" />
<line x1="687" y1="166.5" x2="685.5" y2="175.8" stroke="#2a2a2a" stroke-width="1.2" />
<line x1="682.5" y1="190.4" x2="681" y2="198.8" stroke="#2a2a2a" stroke-width="1.2" />
<polygon points="673.2,201.3 671.5,208.4 664.6,210.5 659.2,205.5 660.9,198.4 667.8,196.3" fill="none" stroke="#2a2a2a" stroke-width="1.25"/>
<line x1="670.8" y1="202.7" x2="670.0" y2="206.1" stroke="#2a2a2a" stroke-width="1.125"/>
<line x1="664.5" y1="207.7" x2="662.0" y2="205.4" stroke="#2a2a2a" stroke-width="1.125"/>
<line x1="663.3" y1="199.8" x2="666.6" y2="198.8" stroke="#2a2a2a" stroke-width="1.125"/>
<polygon points="650.6,208.0 648.9,215.1 642.0,217.2 636.6,212.2 638.3,205.1 645.2,203.0" fill="none" stroke="#2a2a2a" stroke-width="1.25"/>
<line x1="648.2" y1="209.4" x2="647.4" y2="212.8" stroke="#2a2a2a" stroke-width="1.125"/>
<line x1="641.9" y1="214.4" x2="639.4" y2="212.1" stroke="#2a2a2a" stroke-width="1.125"/>
<line x1="640.7" y1="206.5" x2="644.0" y2="205.5" stroke="#2a2a2a" stroke-width="1.125"/>
<line x1="681" y1="198.8" x2="673.5" y2="201.5" stroke="#2a2a2a" stroke-width="1.2" />
<line x1="659" y1="205.5" x2="650.8" y2="208.2" stroke="#2a2a2a" stroke-width="1.2" />
<line x1="636.4" y1="212.2" x2="629" y2="214.5" stroke="#2a2a2a" stroke-width="1.2" />
<text x="625.5" y="219" font-size="6.5" fill="#222" font-weight="normal">N</text>
<line x1="626" y1="221" x2="620" y2="226" stroke="#2a2a2a" stroke-width="1.2" />
<polygon points="612.6,235.0 606.3,231.3 606.3,224.0 612.6,220.4 618.9,224.0 618.9,231.3" fill="none" stroke="#2a2a2a" stroke-width="1.25"/>
<line x1="612.0" y1="232.3" x2="608.9" y2="230.6" stroke="#2a2a2a" stroke-width="1.125"/>
<line x1="608.9" y1="224.8" x2="612.0" y2="223.1" stroke="#2a2a2a" stroke-width="1.125"/>
<line x1="616.9" y1="226.0" x2="616.9" y2="229.4" stroke="#2a2a2a" stroke-width="1.125"/>
<text x="610" y="222.5" font-size="6" fill="#222" font-weight="normal">N</text>
<polygon points="703.0,204.7 698.3,210.3 691.1,209.0 688.6,202.1 693.3,196.5 700.5,197.8" fill="none" stroke="#2a2a2a" stroke-width="1.25"/>
<line x1="700.2" y1="204.8" x2="698.0" y2="207.5" stroke="#2a2a2a" stroke-width="1.125"/>
<line x1="692.4" y1="206.5" x2="691.2" y2="203.2" stroke="#2a2a2a" stroke-width="1.125"/>
<line x1="694.8" y1="198.9" x2="698.3" y2="199.5" stroke="#2a2a2a" stroke-width="1.125"/>
<polygon points="722.9,217.0 717.3,221.7 710.4,219.2 709.1,212.0 714.7,207.3 721.6,209.8" fill="none" stroke="#2a2a2a" stroke-width="1.25"/>
<line x1="720.1" y1="216.7" x2="717.4" y2="218.9" stroke="#2a2a2a" stroke-width="1.125"/>
<line x1="712.1" y1="217.0" x2="711.5" y2="213.5" stroke="#2a2a2a" stroke-width="1.125"/>
<line x1="715.8" y1="209.9" x2="719.1" y2="211.1" stroke="#2a2a2a" stroke-width="1.125"/>
<line x1="702.5" y1="206" x2="709" y2="211" stroke="#2a2a2a" stroke-width="1.2" />
<line x1="723" y1="218" x2="729.5" y2="221.5" stroke="#2a2a2a" stroke-width="1.2" />
<text x="727" y="226" font-size="6.5" fill="#222" font-weight="normal">N</text>
<line x1="733" y1="219" x2="740" y2="218" stroke="#2a2a2a" stroke-width="1.2" />
<line x1="740" y1="218" x2="744" y2="222" stroke="#2a2a2a" stroke-width="1.2" />
<polygon points="751.0,228.3 744.7,224.7 744.7,217.3 751.0,213.7 757.3,217.3 757.3,224.7" fill="none" stroke="#2a2a2a" stroke-width="1.25"/>
<line x1="750.4" y1="225.6" x2="747.3" y2="223.9" stroke="#2a2a2a" stroke-width="1.125"/>
<line x1="747.3" y1="218.1" x2="750.4" y2="216.4" stroke="#2a2a2a" stroke-width="1.125"/>
<line x1="755.3" y1="219.3" x2="755.3" y2="222.7" stroke="#2a2a2a" stroke-width="1.125"/>
<text x="748" y="231" font-size="6.5" fill="#222" font-weight="normal">N</text>
<polygon points="688.0,218.0 682.4,213.3 683.7,206.1 690.6,203.6 696.2,208.3 694.9,215.5" fill="none" stroke="#2a2a2a" stroke-width="1.25"/>
<line x1="687.9" y1="215.2" x2="685.2" y2="213.0" stroke="#2a2a2a" stroke-width="1.125"/>
<line x1="686.2" y1="207.4" x2="689.5" y2="206.2" stroke="#2a2a2a" stroke-width="1.125"/>
<line x1="693.8" y1="209.8" x2="693.2" y2="213.3" stroke="#2a2a2a" stroke-width="1.125"/>
<polygon points="699.7,236.1 695.0,230.5 697.5,223.6 704.7,222.3 709.4,227.9 706.9,234.8" fill="none" stroke="#2a2a2a" stroke-width="1.25"/>
<line x1="700.0" y1="233.3" x2="697.8" y2="230.6" stroke="#2a2a2a" stroke-width="1.125"/>
<line x1="699.7" y1="225.3" x2="703.2" y2="224.7" stroke="#2a2a2a" stroke-width="1.125"/>
<line x1="706.8" y1="229.0" x2="705.6" y2="232.3" stroke="#2a2a2a" stroke-width="1.125"/>
<line x1="681" y1="198.8" x2="686" y2="204" stroke="#2a2a2a" stroke-width="1.2" />
<line x1="693" y1="217" x2="697.5" y2="222.5" stroke="#2a2a2a" stroke-width="1.2" />
<line x1="706" y1="236" x2="709" y2="240" stroke="#2a2a2a" stroke-width="1.2" />
<line x1="698.2" y1="137.3" x2="619" y2="212.6" stroke="#2f8f55" stroke-width="1.6" />
<line x1="698.2" y1="137.3" x2="735.4" y2="230.1" stroke="#2f8f55" stroke-width="1.6" />
<line x1="619" y1="212.6" x2="735.4" y2="230.1" stroke="#2f8f55" stroke-width="1.6" />
<defs><radialGradient id="ball" cx="0.35" cy="0.3" r="0.7"><stop offset="0" stop-color="#ffffff"/><stop offset="0.25" stop-color="#e0b0ea"/><stop offset="0.6" stop-color="#a040b8"/><stop offset="1" stop-color="#6a1a80"/></radialGradient></defs>
<circle cx="698.2" cy="137.3" r="4.8" fill="url(#ball)"/>
<circle cx="619" cy="212.6" r="4.8" fill="url(#ball)"/>
<circle cx="735.4" cy="230.1" r="4.8" fill="url(#ball)"/>
<circle cx="743.7" cy="199.4" r="4.6" fill="url(#ball)"/>
<text x="709.6" y="246.3" font-size="7.6" fill="#2a86d8" font-weight="normal">NH</text>
<text x="692" y="255.5" font-size="7.6" fill="#e8922a" font-weight="normal">HN</text>
<text x="708.5" y="260.5" font-size="7.6" fill="#e8922a" font-weight="normal">O</text>
<line x1="702.5" y1="252.5" x2="706" y2="250" stroke="#e8922a" stroke-width="0.9" />
<line x1="706" y1="250" x2="709" y2="253" stroke="#e8922a" stroke-width="0.9" />
<line x1="706.5" y1="251" x2="707" y2="255.5" stroke="#e8922a" stroke-width="0.9" />
<line x1="692" y1="253.5" x2="688" y2="256" stroke="#e8922a" stroke-width="0.9" />
<line x1="688" y1="256" x2="684" y2="256" stroke="#e8922a" stroke-width="0.9" />
<line x1="684" y1="256" x2="680" y2="262" stroke="#e8922a" stroke-width="0.9" />
<text x="666.5" y="261.5" font-size="7.6" fill="#e8922a" font-weight="normal">EtO</text>
<text x="659.5" y="269" font-size="7.6" fill="#e8922a" font-weight="normal">EtO-Si</text>
<text x="667" y="276.5" font-size="7.6" fill="#e8922a" font-weight="normal">EtO</text>
</svg></body></html>
